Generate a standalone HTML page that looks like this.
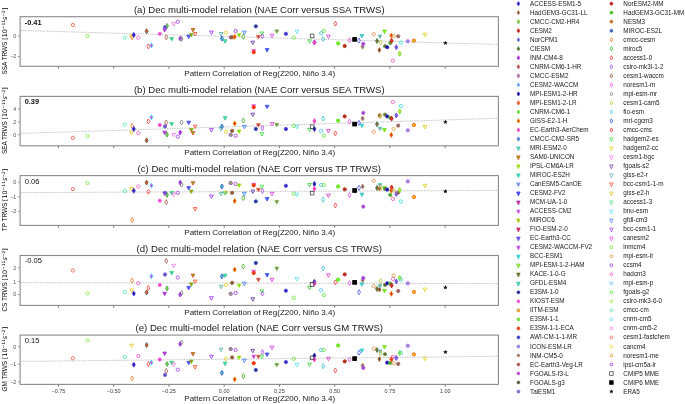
<!DOCTYPE html>
<html><head><meta charset="utf-8"><title>Dec multi-model relation</title>
<style>html,body{margin:0;padding:0;background:#fff;}svg{display:block;font-family:'Liberation Sans', Arial, sans-serif;}</style>
</head><body>
<svg width="685" height="404" viewBox="0 0 685 404">
<rect width="685" height="404" fill="#fff"/>
<rect x="20.1" y="16.7" width="478.3" height="49.6" fill="#fff" stroke="#8a8a8a" stroke-width="1.1"/>
<line x1="20.700000000000003" y1="30.4" x2="497.79999999999995" y2="44.5" stroke="#9a9a9a" stroke-width="0.6" stroke-dasharray="1.4 1"/>
<line x1="17.9" y1="35.9" x2="19.6" y2="35.9" stroke="#444" stroke-width="0.6"/>
<text x="16.2" y="37.8" font-size="5.3" text-anchor="end" fill="#4d4d4d">0</text>
<line x1="17.9" y1="56.5" x2="19.6" y2="56.5" stroke="#444" stroke-width="0.6"/>
<text x="16.2" y="58.4" font-size="5.3" text-anchor="end" fill="#4d4d4d">−2</text>
<line x1="58.4" y1="66.8" x2="58.4" y2="68.6" stroke="#333" stroke-width="0.7"/>
<line x1="113.7" y1="66.8" x2="113.7" y2="68.6" stroke="#333" stroke-width="0.7"/>
<line x1="168.9" y1="66.8" x2="168.9" y2="68.6" stroke="#333" stroke-width="0.7"/>
<line x1="224.2" y1="66.8" x2="224.2" y2="68.6" stroke="#333" stroke-width="0.7"/>
<line x1="279.4" y1="66.8" x2="279.4" y2="68.6" stroke="#333" stroke-width="0.7"/>
<line x1="334.7" y1="66.8" x2="334.7" y2="68.6" stroke="#333" stroke-width="0.7"/>
<line x1="389.9" y1="66.8" x2="389.9" y2="68.6" stroke="#333" stroke-width="0.7"/>
<line x1="445.2" y1="66.8" x2="445.2" y2="68.6" stroke="#333" stroke-width="0.7"/>
<text x="259.3" y="13.05" font-size="9.6" text-anchor="middle" fill="#1a1a1a">(a) Dec multi-model relation (NAE Corr versus SSA TRWS)</text>
<text x="259.7" y="75.7" font-size="8" text-anchor="middle" fill="#1a1a1a">Pattern Correlation of Reg(Z200, Niño 3.4)</text>
<text transform="translate(6.7 41.0) rotate(-90)" font-size="6.4" text-anchor="middle" fill="#000">SSA TRWS <tspan font-family="DejaVu Sans, sans-serif">[10<tspan font-size="4.4" dy="-2.2">−11</tspan><tspan font-style="italic" dy="2.2">s</tspan><tspan font-size="4.4" dy="-2.2">−2</tspan><tspan dy="2.2">]</tspan></tspan></text>
<text x="24.7" y="24.6" font-size="7.4" font-weight="bold" fill="#111">-0.41</text>
<path d="M167.0 23.4L168.5 25.9L167.0 28.4L165.5 25.9Z" fill="#80c060" stroke="#50b040" stroke-width="0.85"/>
<path d="M180.2 36.0L181.7 38.5L180.2 41.0L178.7 38.5Z" fill="#9030d0" stroke="#b040f0" stroke-width="0.85"/>
<path d="M162.8 28.7L166.6 28.7L164.7 32.1Z" fill="#c040e0" stroke="#a040d0" stroke-width="0.85"/>
<circle cx="72.9" cy="25.0" r="1.65" fill="none" stroke="#f06050" stroke-width="0.85"/>
<circle cx="87.5" cy="35.9" r="1.65" fill="none" stroke="#88e848" stroke-width="0.85"/>
<circle cx="124.9" cy="37.6" r="1.65" fill="none" stroke="#5ae8a8" stroke-width="0.85"/>
<path d="M129.7 34.9L133.5 34.9L131.6 38.3Z" fill="none" stroke="#e8c828" stroke-width="0.85"/>
<path d="M132.2 34.8L133.7 37.3L132.2 39.8L130.7 37.3Z" fill="none" stroke="#f08030" stroke-width="0.85"/>
<path d="M133.8 32.4L135.3 34.9L133.8 37.4L132.3 34.9Z" fill="#3010a0" stroke="#4040e0" stroke-width="0.85"/>
<circle cx="138.3" cy="37.6" r="1.65" fill="none" stroke="#f060c8" stroke-width="0.85"/>
<path d="M146.6 28.7L148.1 31.2L146.6 33.7L145.1 31.2Z" fill="#e85030" stroke="#606050" stroke-width="0.85"/>
<path d="M148.4 43.9L149.9 46.4L148.4 48.9L146.9 46.4Z" fill="none" stroke="#f04848" stroke-width="0.85"/>
<path d="M151.4 42.9L152.9 45.4L151.4 47.9L149.9 45.4Z" fill="#e040e0" stroke="#40e0f0" stroke-width="0.85"/>
<circle cx="159.8" cy="33.8" r="1.65" fill="#f040d0" stroke="#f070d8" stroke-width="0.85"/>
<circle cx="165.0" cy="27.1" r="1.65" fill="#6050c0" stroke="#8060e0" stroke-width="0.85"/>
<path d="M166.3 34.8L167.8 37.3L166.3 39.8L164.8 37.3Z" fill="none" stroke="#a06050" stroke-width="0.85"/>
<path d="M169.8 37.6L173.6 37.6L171.7 41.0Z" fill="#40b0d0" stroke="#40e070" stroke-width="0.85"/>
<path d="M171.8 22.7L175.6 22.7L173.7 26.1Z" fill="none" stroke="#f080e0" stroke-width="0.85"/>
<circle cx="177.8" cy="21.8" r="1.65" fill="none" stroke="#a848f0" stroke-width="0.85"/>
<path d="M181.5 36.5L183.0 39.0L181.5 41.5L180.0 39.0Z" fill="none" stroke="#808080" stroke-width="0.85"/>
<path d="M186.8 35.1L190.6 35.1L188.7 38.5Z" fill="#6060f0" stroke="#4848f0" stroke-width="0.85"/>
<path d="M189.4 33.4L193.2 33.4L191.3 36.8Z" fill="#e06020" stroke="#60d020" stroke-width="0.85"/>
<path d="M191.1 28.5L194.9 28.5L193.0 31.9Z" fill="#60c020" stroke="#f05030" stroke-width="0.85"/>
<path d="M193.2 32.5L197.0 32.5L195.1 35.9Z" fill="none" stroke="#f05030" stroke-width="0.85"/>
<path d="M209.5 31.1L213.3 31.1L211.4 34.5Z" fill="none" stroke="#a030f0" stroke-width="0.85"/>
<path d="M219.2 32.5L223.0 32.5L221.1 35.9Z" fill="none" stroke="#50b0a0" stroke-width="0.85"/>
<path d="M221.9 36.0L223.4 38.5L221.9 41.0L220.4 38.5Z" fill="#40c0c0" stroke="#4060d0" stroke-width="0.85"/>
<path d="M223.2 39.8L227.0 39.8L225.1 43.2Z" fill="#40e0c0" stroke="#40c090" stroke-width="0.85"/>
<circle cx="226.0" cy="32.7" r="1.65" fill="none" stroke="#e8d030" stroke-width="0.85"/>
<circle cx="230.7" cy="37.3" r="1.65" fill="#80c040" stroke="#a040d0" stroke-width="0.85"/>
<circle cx="232.1" cy="37.3" r="1.65" fill="#806040" stroke="#a06030" stroke-width="0.85"/>
<path d="M234.7 34.3L236.2 36.8L234.7 39.3L233.2 36.8Z" fill="#e03000" stroke="#f09000" stroke-width="0.85"/>
<circle cx="235.6" cy="31.0" r="1.65" fill="none" stroke="#a040d0" stroke-width="0.85"/>
<path d="M237.2 33.7L241.0 33.7L239.1 37.1Z" fill="#40e020" stroke="#c0e020" stroke-width="0.85"/>
<path d="M243.3 34.3L244.8 36.8L243.3 39.3L241.8 36.8Z" fill="none" stroke="#50b030" stroke-width="0.85"/>
<path d="M242.4 31.1L246.2 31.1L244.3 34.5Z" fill="none" stroke="#4080f0" stroke-width="0.85"/>
<path d="M250.9 41.2L254.7 41.2L252.8 44.6Z" fill="none" stroke="#6030a0" stroke-width="0.85"/>
<path d="M251.8 49.5L255.6 49.5L253.7 52.9Z" fill="#a040c0" stroke="#f060e0" stroke-width="0.85"/>
<circle cx="253.7" cy="52.2" r="1.65" fill="#f03010" stroke="#f04010" stroke-width="0.85"/>
<circle cx="255.8" cy="26.3" r="1.65" fill="#303090" stroke="#4050c0" stroke-width="0.85"/>
<path d="M256.5 35.5L260.3 35.5L258.4 38.9Z" fill="#a040a0" stroke="#f06020" stroke-width="0.85"/>
<path d="M260.0 32.0L263.8 32.0L261.9 35.4Z" fill="none" stroke="#40e040" stroke-width="0.85"/>
<path d="M262.4 33.7L263.9 36.2L262.4 38.7L260.9 36.2Z" fill="none" stroke="#a050e0" stroke-width="0.85"/>
<path d="M265.2 48.6L269.0 48.6L267.1 52.0Z" fill="#5060f0" stroke="#4050f0" stroke-width="0.85"/>
<path d="M270.1 34.2L273.9 34.2L272.0 37.6Z" fill="none" stroke="#e040e0" stroke-width="0.85"/>
<path d="M274.9 29.9L278.7 29.9L276.8 33.3Z" fill="#c040c0" stroke="#60d020" stroke-width="0.85"/>
<circle cx="285.9" cy="33.8" r="1.65" fill="#3030c0" stroke="#5040e0" stroke-width="0.85"/>
<circle cx="293.8" cy="37.6" r="1.65" fill="none" stroke="#70e040" stroke-width="0.85"/>
<path d="M295.0 30.2L298.8 30.2L296.9 33.6Z" fill="none" stroke="#60e0f0" stroke-width="0.85"/>
<path d="M307.6 39.8L311.4 39.8L309.5 43.2Z" fill="none" stroke="#40d040" stroke-width="0.85"/>
<path d="M314.4 39.9L315.9 42.4L314.4 44.9L312.9 42.4Z" fill="#201090" stroke="#3030c0" stroke-width="0.85"/>
<path d="M314.4 40.0L315.9 42.5L314.4 45.0L312.9 42.5Z" fill="#f040c0" stroke="#f050d0" stroke-width="0.85"/>
<circle cx="321.1" cy="33.3" r="1.65" fill="none" stroke="#50c0f0" stroke-width="0.85"/>
<path d="M323.2 36.5L324.7 39.0L323.2 41.5L321.7 39.0Z" fill="none" stroke="#40c0d0" stroke-width="0.85"/>
<circle cx="323.7" cy="31.0" r="1.65" fill="none" stroke="#60e040" stroke-width="0.85"/>
<path d="M326.5 35.1L330.3 35.1L328.4 38.5Z" fill="none" stroke="#e040d0" stroke-width="0.85"/>
<path d="M335.4 21.1L336.9 23.6L335.4 26.1L333.9 23.6Z" fill="none" stroke="#f04040" stroke-width="0.85"/>
<circle cx="338.1" cy="43.4" r="1.65" fill="#70f020" stroke="#60e020" stroke-width="0.85"/>
<circle cx="344.7" cy="46.0" r="1.65" fill="#b03020" stroke="#c03020" stroke-width="0.85"/>
<path d="M349.5 37.8L351.0 40.3L349.5 42.8L348.0 40.3Z" fill="none" stroke="#e060e0" stroke-width="0.85"/>
<path d="M359.0 38.1L360.5 40.6L359.0 43.1L357.5 40.6Z" fill="none" stroke="#5060f0" stroke-width="0.85"/>
<path d="M360.0 34.6L363.8 34.6L361.9 38.0Z" fill="#40e0e0" stroke="#40c0c0" stroke-width="0.85"/>
<path d="M362.6 44.2L364.1 46.7L362.6 49.2L361.1 46.7Z" fill="#a040c0" stroke="#a0a030" stroke-width="0.85"/>
<circle cx="363.3" cy="43.8" r="1.65" fill="#a040c0" stroke="#b060f0" stroke-width="0.85"/>
<circle cx="373.7" cy="34.2" r="1.65" fill="none" stroke="#f09050" stroke-width="0.85"/>
<path d="M377.0 38.5L378.5 41.0L377.0 43.5L375.5 41.0Z" fill="#806040" stroke="#508040" stroke-width="0.85"/>
<path d="M379.4 47.5L380.9 50.0L379.4 52.5L377.9 50.0Z" fill="#205050" stroke="#f07020" stroke-width="0.85"/>
<path d="M378.1 35.0L381.9 35.0L380.0 38.4Z" fill="#e060c0" stroke="#40e0b0" stroke-width="0.85"/>
<path d="M380.6 39.8L382.1 42.3L380.6 44.8L379.1 42.3Z" fill="none" stroke="#c0c040" stroke-width="0.85"/>
<path d="M382.6 30.1L386.4 30.1L384.5 33.5Z" fill="#a0e020" stroke="#60e020" stroke-width="0.85"/>
<circle cx="385.0" cy="46.2" r="1.65" fill="#805040" stroke="#60b040" stroke-width="0.85"/>
<circle cx="387.2" cy="47.2" r="1.65" fill="#201090" stroke="#3030c0" stroke-width="0.85"/>
<circle cx="390.3" cy="43.0" r="1.65" fill="#50a030" stroke="#60b040" stroke-width="0.85"/>
<path d="M391.6 38.3L393.1 40.8L391.6 43.3L390.1 40.8Z" fill="#e03030" stroke="#c02020" stroke-width="0.85"/>
<path d="M391.3 33.1L392.8 35.6L391.3 38.1L389.8 35.6Z" fill="#e03000" stroke="#f08020" stroke-width="0.85"/>
<circle cx="392.9" cy="60.6" r="1.65" fill="none" stroke="#f060c0" stroke-width="0.85"/>
<circle cx="393.6" cy="36.1" r="1.65" fill="none" stroke="#d0a040" stroke-width="0.85"/>
<path d="M396.3 44.7L397.8 47.2L396.3 49.7L394.8 47.2Z" fill="#8060d0" stroke="#7050e0" stroke-width="0.85"/>
<circle cx="398.2" cy="36.3" r="1.65" fill="#707070" stroke="#c06060" stroke-width="0.85"/>
<path d="M399.7 51.2L401.2 53.7L399.7 56.2L398.2 53.7Z" fill="#e0e040" stroke="#60e020" stroke-width="0.85"/>
<circle cx="400.9" cy="42.6" r="1.65" fill="none" stroke="#40e0d0" stroke-width="0.85"/>
<circle cx="407.8" cy="41.3" r="1.65" fill="#50b0e0" stroke="#f050f0" stroke-width="0.85"/>
<circle cx="413.9" cy="40.6" r="1.65" fill="#f0c000" stroke="#f06020" stroke-width="0.85"/>
<path d="M423.1 33.2L426.9 33.2L425.0 36.6Z" fill="none" stroke="#e0d020" stroke-width="0.85"/>
<rect x="310.25" y="34.05" width="3.70" height="3.70" fill="none" stroke="#333" stroke-width="0.7"/>
<rect x="352.75" y="37.55" width="3.70" height="3.70" fill="#000" stroke="#000" stroke-width="0.9"/>
<polygon points="445.40,40.70 445.99,42.29 447.68,42.36 446.35,43.41 446.81,45.04 445.40,44.10 443.99,45.04 444.45,43.41 443.12,42.36 444.81,42.29" fill="#000"/>
<rect x="20.1" y="96.4" width="478.3" height="49.4" fill="#fff" stroke="#8a8a8a" stroke-width="1.1"/>
<line x1="20.700000000000003" y1="133.4" x2="497.79999999999995" y2="118.3" stroke="#9a9a9a" stroke-width="0.6" stroke-dasharray="1.4 1"/>
<line x1="17.9" y1="108.9" x2="19.6" y2="108.9" stroke="#444" stroke-width="0.6"/>
<text x="16.2" y="110.8" font-size="5.3" text-anchor="end" fill="#4d4d4d">4</text>
<line x1="17.9" y1="122.0" x2="19.6" y2="122.0" stroke="#444" stroke-width="0.6"/>
<text x="16.2" y="123.9" font-size="5.3" text-anchor="end" fill="#4d4d4d">2</text>
<line x1="17.9" y1="134.7" x2="19.6" y2="134.7" stroke="#444" stroke-width="0.6"/>
<text x="16.2" y="136.6" font-size="5.3" text-anchor="end" fill="#4d4d4d">0</text>
<line x1="58.4" y1="146.3" x2="58.4" y2="148.10000000000002" stroke="#333" stroke-width="0.7"/>
<line x1="113.7" y1="146.3" x2="113.7" y2="148.10000000000002" stroke="#333" stroke-width="0.7"/>
<line x1="168.9" y1="146.3" x2="168.9" y2="148.10000000000002" stroke="#333" stroke-width="0.7"/>
<line x1="224.2" y1="146.3" x2="224.2" y2="148.10000000000002" stroke="#333" stroke-width="0.7"/>
<line x1="279.4" y1="146.3" x2="279.4" y2="148.10000000000002" stroke="#333" stroke-width="0.7"/>
<line x1="334.7" y1="146.3" x2="334.7" y2="148.10000000000002" stroke="#333" stroke-width="0.7"/>
<line x1="389.9" y1="146.3" x2="389.9" y2="148.10000000000002" stroke="#333" stroke-width="0.7"/>
<line x1="445.2" y1="146.3" x2="445.2" y2="148.10000000000002" stroke="#333" stroke-width="0.7"/>
<text x="259.3" y="92.75" font-size="9.6" text-anchor="middle" fill="#1a1a1a">(b) Dec multi-model relation (NAE Corr versus SEA TRWS)</text>
<text x="259.7" y="155.2" font-size="8" text-anchor="middle" fill="#1a1a1a">Pattern Correlation of Reg(Z200, Niño 3.4)</text>
<text transform="translate(6.7 120.6) rotate(-90)" font-size="6.4" text-anchor="middle" fill="#000">SEA TRWS <tspan font-family="DejaVu Sans, sans-serif">[10<tspan font-size="4.4" dy="-2.2">−11</tspan><tspan font-style="italic" dy="2.2">s</tspan><tspan font-size="4.4" dy="-2.2">−2</tspan><tspan dy="2.2">]</tspan></tspan></text>
<text x="24.7" y="104.3" font-size="7.4" font-weight="bold" fill="#111">0.39</text>
<path d="M167.0 132.1L168.5 134.6L167.0 137.1L165.5 134.6Z" fill="#80c060" stroke="#50b040" stroke-width="0.85"/>
<path d="M180.2 130.0L181.7 132.5L180.2 135.0L178.7 132.5Z" fill="#9030d0" stroke="#b040f0" stroke-width="0.85"/>
<path d="M162.8 131.2L166.6 131.2L164.7 134.6Z" fill="#c040e0" stroke="#a040d0" stroke-width="0.85"/>
<circle cx="72.9" cy="137.8" r="1.65" fill="none" stroke="#f06050" stroke-width="0.85"/>
<circle cx="87.5" cy="136.0" r="1.65" fill="none" stroke="#88e848" stroke-width="0.85"/>
<circle cx="124.9" cy="124.6" r="1.65" fill="none" stroke="#5ae8a8" stroke-width="0.85"/>
<path d="M129.7 131.4L133.5 131.4L131.6 134.8Z" fill="none" stroke="#e8c828" stroke-width="0.85"/>
<path d="M132.2 123.5L133.7 126.0L132.2 128.5L130.7 126.0Z" fill="none" stroke="#f08030" stroke-width="0.85"/>
<path d="M133.8 126.5L135.3 129.0L133.8 131.5L132.3 129.0Z" fill="#3010a0" stroke="#4040e0" stroke-width="0.85"/>
<circle cx="138.3" cy="133.2" r="1.65" fill="none" stroke="#f060c8" stroke-width="0.85"/>
<path d="M146.6 137.9L148.1 140.4L146.6 142.9L145.1 140.4Z" fill="#e85030" stroke="#606050" stroke-width="0.85"/>
<path d="M148.4 119.0L149.9 121.5L148.4 124.0L146.9 121.5Z" fill="none" stroke="#f04848" stroke-width="0.85"/>
<path d="M151.4 114.8L152.9 117.3L151.4 119.8L149.9 117.3Z" fill="#e040e0" stroke="#40e0f0" stroke-width="0.85"/>
<circle cx="159.8" cy="125.0" r="1.65" fill="#f040d0" stroke="#f070d8" stroke-width="0.85"/>
<circle cx="165.0" cy="126.4" r="1.65" fill="#6050c0" stroke="#8060e0" stroke-width="0.85"/>
<path d="M166.3 120.0L167.8 122.5L166.3 125.0L164.8 122.5Z" fill="none" stroke="#a06050" stroke-width="0.85"/>
<path d="M169.8 122.5L173.6 122.5L171.7 125.9Z" fill="#40b0d0" stroke="#40e070" stroke-width="0.85"/>
<path d="M171.8 133.3L175.6 133.3L173.7 136.7Z" fill="none" stroke="#f080e0" stroke-width="0.85"/>
<circle cx="177.8" cy="136.6" r="1.65" fill="none" stroke="#a848f0" stroke-width="0.85"/>
<path d="M181.5 120.0L183.0 122.5L181.5 125.0L180.0 122.5Z" fill="none" stroke="#808080" stroke-width="0.85"/>
<path d="M186.8 121.2L190.6 121.2L188.7 124.6Z" fill="#6060f0" stroke="#4848f0" stroke-width="0.85"/>
<path d="M189.4 128.6L193.2 128.6L191.3 132.0Z" fill="#e06020" stroke="#60d020" stroke-width="0.85"/>
<path d="M191.1 131.6L194.9 131.6L193.0 135.0Z" fill="#60c020" stroke="#f05030" stroke-width="0.85"/>
<path d="M193.2 125.1L197.0 125.1L195.1 128.5Z" fill="none" stroke="#f05030" stroke-width="0.85"/>
<path d="M209.5 128.6L213.3 128.6L211.4 132.0Z" fill="none" stroke="#a030f0" stroke-width="0.85"/>
<path d="M219.2 127.4L223.0 127.4L221.1 130.8Z" fill="none" stroke="#50b0a0" stroke-width="0.85"/>
<path d="M221.9 123.9L223.4 126.4L221.9 128.9L220.4 126.4Z" fill="#40c0c0" stroke="#4060d0" stroke-width="0.85"/>
<path d="M223.2 116.7L227.0 116.7L225.1 120.1Z" fill="#40e0c0" stroke="#40c090" stroke-width="0.85"/>
<circle cx="226.0" cy="131.7" r="1.65" fill="none" stroke="#e8d030" stroke-width="0.85"/>
<circle cx="230.7" cy="134.8" r="1.65" fill="#80c040" stroke="#a040d0" stroke-width="0.85"/>
<circle cx="232.1" cy="130.8" r="1.65" fill="#806040" stroke="#a06030" stroke-width="0.85"/>
<path d="M234.7 120.9L236.2 123.4L234.7 125.9L233.2 123.4Z" fill="#e03000" stroke="#f09000" stroke-width="0.85"/>
<circle cx="235.6" cy="135.7" r="1.65" fill="none" stroke="#a040d0" stroke-width="0.85"/>
<path d="M237.2 130.0L241.0 130.0L239.1 133.4Z" fill="#40e020" stroke="#c0e020" stroke-width="0.85"/>
<path d="M243.3 117.9L244.8 120.4L243.3 122.9L241.8 120.4Z" fill="none" stroke="#50b030" stroke-width="0.85"/>
<path d="M242.4 125.4L246.2 125.4L244.3 128.8Z" fill="none" stroke="#4080f0" stroke-width="0.85"/>
<path d="M250.9 113.2L254.7 113.2L252.8 116.6Z" fill="none" stroke="#6030a0" stroke-width="0.85"/>
<path d="M251.8 104.7L255.6 104.7L253.7 108.1Z" fill="#a040c0" stroke="#f060e0" stroke-width="0.85"/>
<circle cx="253.7" cy="107.3" r="1.65" fill="#f03010" stroke="#f04010" stroke-width="0.85"/>
<circle cx="255.8" cy="129.0" r="1.65" fill="#303090" stroke="#4050c0" stroke-width="0.85"/>
<path d="M256.5 123.7L260.3 123.7L258.4 127.1Z" fill="#a040a0" stroke="#f06020" stroke-width="0.85"/>
<path d="M260.0 132.6L263.8 132.6L261.9 136.0Z" fill="none" stroke="#40e040" stroke-width="0.85"/>
<path d="M262.4 125.6L263.9 128.1L262.4 130.6L260.9 128.1Z" fill="none" stroke="#a050e0" stroke-width="0.85"/>
<path d="M265.2 105.3L269.0 105.3L267.1 108.7Z" fill="#5060f0" stroke="#4050f0" stroke-width="0.85"/>
<path d="M270.1 122.5L273.9 122.5L272.0 125.9Z" fill="none" stroke="#e040e0" stroke-width="0.85"/>
<path d="M274.9 123.3L278.7 123.3L276.8 126.7Z" fill="#c040c0" stroke="#60d020" stroke-width="0.85"/>
<circle cx="285.9" cy="129.0" r="1.65" fill="#3030c0" stroke="#5040e0" stroke-width="0.85"/>
<circle cx="293.8" cy="125.9" r="1.65" fill="none" stroke="#70e040" stroke-width="0.85"/>
<path d="M295.0 125.4L298.8 125.4L296.9 128.8Z" fill="none" stroke="#60e0f0" stroke-width="0.85"/>
<path d="M307.6 128.3L311.4 128.3L309.5 131.7Z" fill="none" stroke="#40d040" stroke-width="0.85"/>
<path d="M314.4 126.5L315.9 129.0L314.4 131.5L312.9 129.0Z" fill="#201090" stroke="#3030c0" stroke-width="0.85"/>
<path d="M314.4 118.6L315.9 121.1L314.4 123.6L312.9 121.1Z" fill="#f040c0" stroke="#f050d0" stroke-width="0.85"/>
<circle cx="321.1" cy="130.8" r="1.65" fill="none" stroke="#50c0f0" stroke-width="0.85"/>
<path d="M323.2 116.0L324.7 118.5L323.2 121.0L321.7 118.5Z" fill="none" stroke="#40c0d0" stroke-width="0.85"/>
<circle cx="323.7" cy="135.7" r="1.65" fill="none" stroke="#60e040" stroke-width="0.85"/>
<path d="M326.5 129.5L330.3 129.5L328.4 132.9Z" fill="none" stroke="#e040d0" stroke-width="0.85"/>
<path d="M335.4 130.9L336.9 133.4L335.4 135.9L333.9 133.4Z" fill="none" stroke="#f04040" stroke-width="0.85"/>
<circle cx="338.1" cy="120.6" r="1.65" fill="#70f020" stroke="#60e020" stroke-width="0.85"/>
<circle cx="344.7" cy="116.4" r="1.65" fill="#b03020" stroke="#c03020" stroke-width="0.85"/>
<path d="M349.5 119.2L351.0 121.7L349.5 124.2L348.0 121.7Z" fill="none" stroke="#e060e0" stroke-width="0.85"/>
<path d="M359.0 120.4L360.5 122.9L359.0 125.4L357.5 122.9Z" fill="none" stroke="#5060f0" stroke-width="0.85"/>
<path d="M360.0 124.2L363.8 124.2L361.9 127.6Z" fill="#40e0e0" stroke="#40c0c0" stroke-width="0.85"/>
<path d="M362.6 116.0L364.1 118.5L362.6 121.0L361.1 118.5Z" fill="#a040c0" stroke="#a0a030" stroke-width="0.85"/>
<circle cx="363.3" cy="112.9" r="1.65" fill="#a040c0" stroke="#b060f0" stroke-width="0.85"/>
<circle cx="373.7" cy="131.7" r="1.65" fill="none" stroke="#f09050" stroke-width="0.85"/>
<path d="M377.0 121.7L378.5 124.2L377.0 126.7L375.5 124.2Z" fill="#806040" stroke="#508040" stroke-width="0.85"/>
<path d="M379.4 113.1L380.9 115.6L379.4 118.1L377.9 115.6Z" fill="#205050" stroke="#f07020" stroke-width="0.85"/>
<path d="M378.1 127.2L381.9 127.2L380.0 130.6Z" fill="#e060c0" stroke="#40e0b0" stroke-width="0.85"/>
<path d="M380.6 113.4L382.1 115.9L380.6 118.4L379.1 115.9Z" fill="none" stroke="#c0c040" stroke-width="0.85"/>
<path d="M382.6 128.6L386.4 128.6L384.5 132.0Z" fill="#a0e020" stroke="#60e020" stroke-width="0.85"/>
<circle cx="385.0" cy="114.6" r="1.65" fill="#805040" stroke="#60b040" stroke-width="0.85"/>
<circle cx="387.2" cy="116.4" r="1.65" fill="#201090" stroke="#3030c0" stroke-width="0.85"/>
<circle cx="390.3" cy="117.8" r="1.65" fill="#50a030" stroke="#60b040" stroke-width="0.85"/>
<path d="M391.6 116.1L393.1 118.6L391.6 121.1L390.1 118.6Z" fill="#e03030" stroke="#c02020" stroke-width="0.85"/>
<path d="M391.3 132.4L392.8 134.9L391.3 137.4L389.8 134.9Z" fill="#e03000" stroke="#f08020" stroke-width="0.85"/>
<circle cx="392.9" cy="101.9" r="1.65" fill="none" stroke="#f060c0" stroke-width="0.85"/>
<circle cx="393.6" cy="128.9" r="1.65" fill="none" stroke="#d0a040" stroke-width="0.85"/>
<path d="M396.3 112.9L397.8 115.4L396.3 117.9L394.8 115.4Z" fill="#8060d0" stroke="#7050e0" stroke-width="0.85"/>
<circle cx="398.2" cy="125.6" r="1.65" fill="#707070" stroke="#c06060" stroke-width="0.85"/>
<path d="M399.7 109.1L401.2 111.6L399.7 114.1L398.2 111.6Z" fill="#e0e040" stroke="#60e020" stroke-width="0.85"/>
<circle cx="400.9" cy="106.0" r="1.65" fill="none" stroke="#40e0d0" stroke-width="0.85"/>
<circle cx="407.8" cy="130.3" r="1.65" fill="#50b0e0" stroke="#f050f0" stroke-width="0.85"/>
<circle cx="413.9" cy="125.0" r="1.65" fill="#f0c000" stroke="#f06020" stroke-width="0.85"/>
<path d="M423.1 125.4L426.9 125.4L425.0 128.8Z" fill="none" stroke="#e0d020" stroke-width="0.85"/>
<rect x="310.25" y="124.85" width="3.70" height="3.70" fill="none" stroke="#333" stroke-width="0.7"/>
<rect x="352.75" y="122.25" width="3.70" height="3.70" fill="#000" stroke="#000" stroke-width="0.9"/>
<polygon points="445.40,119.60 445.99,121.19 447.68,121.26 446.35,122.31 446.81,123.94 445.40,123.00 443.99,123.94 444.45,122.31 443.12,121.26 444.81,121.19" fill="#000"/>
<rect x="20.1" y="175.6" width="478.3" height="49.8" fill="#fff" stroke="#8a8a8a" stroke-width="1.1"/>
<line x1="20.700000000000003" y1="192.6" x2="497.79999999999995" y2="190.4" stroke="#9a9a9a" stroke-width="0.6" stroke-dasharray="1.4 1"/>
<line x1="17.9" y1="182.4" x2="19.6" y2="182.4" stroke="#444" stroke-width="0.6"/>
<text x="16.2" y="184.3" font-size="5.3" text-anchor="end" fill="#4d4d4d">0</text>
<line x1="17.9" y1="196.8" x2="19.6" y2="196.8" stroke="#444" stroke-width="0.6"/>
<text x="16.2" y="198.7" font-size="5.3" text-anchor="end" fill="#4d4d4d">−1</text>
<line x1="17.9" y1="211.5" x2="19.6" y2="211.5" stroke="#444" stroke-width="0.6"/>
<text x="16.2" y="213.4" font-size="5.3" text-anchor="end" fill="#4d4d4d">−2</text>
<line x1="58.4" y1="225.9" x2="58.4" y2="227.70000000000002" stroke="#333" stroke-width="0.7"/>
<line x1="113.7" y1="225.9" x2="113.7" y2="227.70000000000002" stroke="#333" stroke-width="0.7"/>
<line x1="168.9" y1="225.9" x2="168.9" y2="227.70000000000002" stroke="#333" stroke-width="0.7"/>
<line x1="224.2" y1="225.9" x2="224.2" y2="227.70000000000002" stroke="#333" stroke-width="0.7"/>
<line x1="279.4" y1="225.9" x2="279.4" y2="227.70000000000002" stroke="#333" stroke-width="0.7"/>
<line x1="334.7" y1="225.9" x2="334.7" y2="227.70000000000002" stroke="#333" stroke-width="0.7"/>
<line x1="389.9" y1="225.9" x2="389.9" y2="227.70000000000002" stroke="#333" stroke-width="0.7"/>
<line x1="445.2" y1="225.9" x2="445.2" y2="227.70000000000002" stroke="#333" stroke-width="0.7"/>
<text x="259.3" y="171.95" font-size="9.6" text-anchor="middle" fill="#1a1a1a">(c) Dec multi-model relation (NAE Corr versus TP TRWS)</text>
<text x="259.7" y="234.8" font-size="8" text-anchor="middle" fill="#1a1a1a">Pattern Correlation of Reg(Z200, Niño 3.4)</text>
<text transform="translate(6.7 200.0) rotate(-90)" font-size="6.4" text-anchor="middle" fill="#000">TP TRWS <tspan font-family="DejaVu Sans, sans-serif">[10<tspan font-size="4.4" dy="-2.2">−11</tspan><tspan font-style="italic" dy="2.2">s</tspan><tspan font-size="4.4" dy="-2.2">−2</tspan><tspan dy="2.2">]</tspan></tspan></text>
<text x="24.7" y="183.5" font-size="7.6"  fill="#111">0.06</text>
<path d="M167.0 192.4L168.5 194.9L167.0 197.4L165.5 194.9Z" fill="#80c060" stroke="#50b040" stroke-width="0.85"/>
<path d="M180.2 180.1L181.7 182.6L180.2 185.1L178.7 182.6Z" fill="#9030d0" stroke="#b040f0" stroke-width="0.85"/>
<path d="M162.8 192.2L166.6 192.2L164.7 195.6Z" fill="#c040e0" stroke="#a040d0" stroke-width="0.85"/>
<circle cx="72.9" cy="189.1" r="1.65" fill="none" stroke="#f06050" stroke-width="0.85"/>
<circle cx="87.5" cy="183.0" r="1.65" fill="none" stroke="#88e848" stroke-width="0.85"/>
<circle cx="124.9" cy="190.9" r="1.65" fill="none" stroke="#5ae8a8" stroke-width="0.85"/>
<path d="M129.7 187.5L133.5 187.5L131.6 190.9Z" fill="none" stroke="#e8c828" stroke-width="0.85"/>
<path d="M132.2 217.4L133.7 219.9L132.2 222.4L130.7 219.9Z" fill="none" stroke="#f08030" stroke-width="0.85"/>
<path d="M133.8 188.2L135.3 190.7L133.8 193.2L132.3 190.7Z" fill="#3010a0" stroke="#4040e0" stroke-width="0.85"/>
<circle cx="138.3" cy="186.5" r="1.65" fill="none" stroke="#f060c8" stroke-width="0.85"/>
<path d="M146.6 180.1L148.1 182.6L146.6 185.1L145.1 182.6Z" fill="#e85030" stroke="#606050" stroke-width="0.85"/>
<path d="M148.4 189.2L149.9 191.7L148.4 194.2L146.9 191.7Z" fill="none" stroke="#f04848" stroke-width="0.85"/>
<path d="M151.4 183.1L152.9 185.6L151.4 188.1L149.9 185.6Z" fill="#e040e0" stroke="#40e0f0" stroke-width="0.85"/>
<circle cx="159.8" cy="200.7" r="1.65" fill="#f040d0" stroke="#f070d8" stroke-width="0.85"/>
<circle cx="165.0" cy="192.8" r="1.65" fill="#6050c0" stroke="#8060e0" stroke-width="0.85"/>
<path d="M166.3 199.7L167.8 202.2L166.3 204.7L164.8 202.2Z" fill="none" stroke="#a06050" stroke-width="0.85"/>
<path d="M169.8 191.5L173.6 191.5L171.7 194.9Z" fill="#40b0d0" stroke="#40e070" stroke-width="0.85"/>
<path d="M171.8 193.1L175.6 193.1L173.7 196.5Z" fill="none" stroke="#f080e0" stroke-width="0.85"/>
<circle cx="177.8" cy="192.8" r="1.65" fill="none" stroke="#a848f0" stroke-width="0.85"/>
<path d="M181.5 182.2L183.0 184.7L181.5 187.2L180.0 184.7Z" fill="none" stroke="#808080" stroke-width="0.85"/>
<path d="M186.8 186.6L190.6 186.6L188.7 190.0Z" fill="#6060f0" stroke="#4848f0" stroke-width="0.85"/>
<path d="M189.4 190.1L193.2 190.1L191.3 193.5Z" fill="#e06020" stroke="#60d020" stroke-width="0.85"/>
<path d="M191.1 181.7L194.9 181.7L193.0 185.1Z" fill="#60c020" stroke="#f05030" stroke-width="0.85"/>
<path d="M193.2 207.6L197.0 207.6L195.1 211.0Z" fill="none" stroke="#f05030" stroke-width="0.85"/>
<path d="M209.5 195.0L213.3 195.0L211.4 198.4Z" fill="none" stroke="#a030f0" stroke-width="0.85"/>
<path d="M219.2 192.4L223.0 192.4L221.1 195.8Z" fill="none" stroke="#50b0a0" stroke-width="0.85"/>
<path d="M221.9 184.0L223.4 186.5L221.9 189.0L220.4 186.5Z" fill="#40c0c0" stroke="#4060d0" stroke-width="0.85"/>
<path d="M223.2 191.7L227.0 191.7L225.1 195.1Z" fill="#40e0c0" stroke="#40c090" stroke-width="0.85"/>
<circle cx="226.0" cy="192.3" r="1.65" fill="none" stroke="#e8d030" stroke-width="0.85"/>
<circle cx="230.7" cy="183.0" r="1.65" fill="#80c040" stroke="#a040d0" stroke-width="0.85"/>
<circle cx="232.1" cy="192.8" r="1.65" fill="#806040" stroke="#a06030" stroke-width="0.85"/>
<path d="M234.7 198.5L236.2 201.0L234.7 203.5L233.2 201.0Z" fill="#e03000" stroke="#f09000" stroke-width="0.85"/>
<circle cx="235.6" cy="184.0" r="1.65" fill="none" stroke="#a040d0" stroke-width="0.85"/>
<path d="M237.2 184.0L241.0 184.0L239.1 187.4Z" fill="#40e020" stroke="#c0e020" stroke-width="0.85"/>
<path d="M243.3 195.5L244.8 198.0L243.3 200.5L241.8 198.0Z" fill="none" stroke="#50b030" stroke-width="0.85"/>
<path d="M242.4 192.4L246.2 192.4L244.3 195.8Z" fill="none" stroke="#4080f0" stroke-width="0.85"/>
<path d="M250.9 190.1L254.7 190.1L252.8 193.5Z" fill="none" stroke="#6030a0" stroke-width="0.85"/>
<path d="M251.8 183.2L255.6 183.2L253.7 186.6Z" fill="#a040c0" stroke="#f060e0" stroke-width="0.85"/>
<circle cx="253.7" cy="185.3" r="1.65" fill="#f03010" stroke="#f04010" stroke-width="0.85"/>
<circle cx="255.8" cy="201.4" r="1.65" fill="#303090" stroke="#4050c0" stroke-width="0.85"/>
<path d="M256.5 188.3L260.3 188.3L258.4 191.7Z" fill="#a040a0" stroke="#f06020" stroke-width="0.85"/>
<path d="M260.0 185.2L263.8 185.2L261.9 188.6Z" fill="none" stroke="#40e040" stroke-width="0.85"/>
<path d="M262.4 188.5L263.9 191.0L262.4 193.5L260.9 191.0Z" fill="none" stroke="#a050e0" stroke-width="0.85"/>
<path d="M265.2 197.6L269.0 197.6L267.1 201.0Z" fill="#5060f0" stroke="#4050f0" stroke-width="0.85"/>
<path d="M270.1 192.4L273.9 192.4L272.0 195.8Z" fill="none" stroke="#e040e0" stroke-width="0.85"/>
<path d="M274.9 200.6L278.7 200.6L276.8 204.0Z" fill="#c040c0" stroke="#60d020" stroke-width="0.85"/>
<circle cx="285.9" cy="185.8" r="1.65" fill="#3030c0" stroke="#5040e0" stroke-width="0.85"/>
<circle cx="293.8" cy="193.7" r="1.65" fill="none" stroke="#70e040" stroke-width="0.85"/>
<path d="M295.0 193.2L298.8 193.2L296.9 196.6Z" fill="none" stroke="#60e0f0" stroke-width="0.85"/>
<path d="M307.6 183.4L311.4 183.4L309.5 186.8Z" fill="none" stroke="#40d040" stroke-width="0.85"/>
<path d="M314.4 181.4L315.9 183.9L314.4 186.4L312.9 183.9Z" fill="#201090" stroke="#3030c0" stroke-width="0.85"/>
<path d="M314.4 186.3L315.9 188.8L314.4 191.3L312.9 188.8Z" fill="#f040c0" stroke="#f050d0" stroke-width="0.85"/>
<circle cx="321.1" cy="184.9" r="1.65" fill="none" stroke="#50c0f0" stroke-width="0.85"/>
<path d="M323.2 197.1L324.7 199.6L323.2 202.1L321.7 199.6Z" fill="none" stroke="#40c0d0" stroke-width="0.85"/>
<circle cx="323.7" cy="184.9" r="1.65" fill="none" stroke="#60e040" stroke-width="0.85"/>
<path d="M326.5 194.1L330.3 194.1L328.4 197.5Z" fill="none" stroke="#e040d0" stroke-width="0.85"/>
<path d="M335.4 202.9L336.9 205.4L335.4 207.9L333.9 205.4Z" fill="none" stroke="#f04040" stroke-width="0.85"/>
<circle cx="338.1" cy="186.5" r="1.65" fill="#70f020" stroke="#60e020" stroke-width="0.85"/>
<circle cx="344.7" cy="189.3" r="1.65" fill="#b03020" stroke="#c03020" stroke-width="0.85"/>
<path d="M349.5 192.7L351.0 195.2L349.5 197.7L348.0 195.2Z" fill="none" stroke="#e060e0" stroke-width="0.85"/>
<path d="M359.0 185.4L360.5 187.9L359.0 190.4L357.5 187.9Z" fill="none" stroke="#5060f0" stroke-width="0.85"/>
<path d="M360.0 193.1L363.8 193.1L361.9 196.5Z" fill="#40e0e0" stroke="#40c0c0" stroke-width="0.85"/>
<path d="M362.6 184.0L364.1 186.5L362.6 189.0L361.1 186.5Z" fill="#a040c0" stroke="#a0a030" stroke-width="0.85"/>
<circle cx="363.3" cy="206.6" r="1.65" fill="#a040c0" stroke="#b060f0" stroke-width="0.85"/>
<circle cx="373.7" cy="180.9" r="1.65" fill="none" stroke="#f09050" stroke-width="0.85"/>
<path d="M377.0 185.4L378.5 187.9L377.0 190.4L375.5 187.9Z" fill="#806040" stroke="#508040" stroke-width="0.85"/>
<path d="M379.4 186.0L380.9 188.5L379.4 191.0L377.9 188.5Z" fill="#205050" stroke="#f07020" stroke-width="0.85"/>
<path d="M378.1 183.6L381.9 183.6L380.0 187.0Z" fill="#e060c0" stroke="#40e0b0" stroke-width="0.85"/>
<path d="M380.6 185.4L382.1 187.9L380.6 190.4L379.1 187.9Z" fill="none" stroke="#c0c040" stroke-width="0.85"/>
<path d="M382.6 186.6L386.4 186.6L384.5 190.0Z" fill="#a0e020" stroke="#60e020" stroke-width="0.85"/>
<circle cx="385.0" cy="188.8" r="1.65" fill="#805040" stroke="#60b040" stroke-width="0.85"/>
<circle cx="387.2" cy="189.6" r="1.65" fill="#201090" stroke="#3030c0" stroke-width="0.85"/>
<circle cx="390.3" cy="194.9" r="1.65" fill="#50a030" stroke="#60b040" stroke-width="0.85"/>
<path d="M391.6 185.0L393.1 187.5L391.6 190.0L390.1 187.5Z" fill="#e03030" stroke="#c02020" stroke-width="0.85"/>
<path d="M391.3 188.0L392.8 190.5L391.3 193.0L389.8 190.5Z" fill="#e03000" stroke="#f08020" stroke-width="0.85"/>
<circle cx="392.9" cy="198.9" r="1.65" fill="none" stroke="#f060c0" stroke-width="0.85"/>
<circle cx="393.6" cy="190.5" r="1.65" fill="none" stroke="#d0a040" stroke-width="0.85"/>
<path d="M396.3 191.5L397.8 194.0L396.3 196.5L394.8 194.0Z" fill="#8060d0" stroke="#7050e0" stroke-width="0.85"/>
<circle cx="398.2" cy="192.6" r="1.65" fill="#707070" stroke="#c06060" stroke-width="0.85"/>
<path d="M399.7 187.5L401.2 190.0L399.7 192.5L398.2 190.0Z" fill="#e0e040" stroke="#60e020" stroke-width="0.85"/>
<circle cx="400.9" cy="201.5" r="1.65" fill="none" stroke="#40e0d0" stroke-width="0.85"/>
<circle cx="407.8" cy="181.4" r="1.65" fill="#50b0e0" stroke="#f050f0" stroke-width="0.85"/>
<circle cx="413.9" cy="197.0" r="1.65" fill="#f0c000" stroke="#f06020" stroke-width="0.85"/>
<path d="M423.1 184.3L426.9 184.3L425.0 187.7Z" fill="none" stroke="#e0d020" stroke-width="0.85"/>
<rect x="310.25" y="191.25" width="3.70" height="3.70" fill="none" stroke="#333" stroke-width="0.7"/>
<rect x="352.75" y="188.65" width="3.70" height="3.70" fill="#000" stroke="#000" stroke-width="0.9"/>
<polygon points="445.40,189.00 445.99,190.59 447.68,190.66 446.35,191.71 446.81,193.34 445.40,192.40 443.99,193.34 444.45,191.71 443.12,190.66 444.81,190.59" fill="#000"/>
<rect x="20.1" y="255.5" width="478.3" height="49.9" fill="#fff" stroke="#8a8a8a" stroke-width="1.1"/>
<line x1="20.700000000000003" y1="282.6" x2="497.79999999999995" y2="283.6" stroke="#9a9a9a" stroke-width="0.6" stroke-dasharray="1.4 1"/>
<line x1="17.9" y1="267.7" x2="19.6" y2="267.7" stroke="#444" stroke-width="0.6"/>
<text x="16.2" y="269.6" font-size="5.3" text-anchor="end" fill="#4d4d4d">2</text>
<line x1="17.9" y1="281.6" x2="19.6" y2="281.6" stroke="#444" stroke-width="0.6"/>
<text x="16.2" y="283.5" font-size="5.3" text-anchor="end" fill="#4d4d4d">1</text>
<line x1="17.9" y1="294.5" x2="19.6" y2="294.5" stroke="#444" stroke-width="0.6"/>
<text x="16.2" y="296.4" font-size="5.3" text-anchor="end" fill="#4d4d4d">0</text>
<line x1="58.4" y1="305.9" x2="58.4" y2="307.7" stroke="#333" stroke-width="0.7"/>
<line x1="113.7" y1="305.9" x2="113.7" y2="307.7" stroke="#333" stroke-width="0.7"/>
<line x1="168.9" y1="305.9" x2="168.9" y2="307.7" stroke="#333" stroke-width="0.7"/>
<line x1="224.2" y1="305.9" x2="224.2" y2="307.7" stroke="#333" stroke-width="0.7"/>
<line x1="279.4" y1="305.9" x2="279.4" y2="307.7" stroke="#333" stroke-width="0.7"/>
<line x1="334.7" y1="305.9" x2="334.7" y2="307.7" stroke="#333" stroke-width="0.7"/>
<line x1="389.9" y1="305.9" x2="389.9" y2="307.7" stroke="#333" stroke-width="0.7"/>
<line x1="445.2" y1="305.9" x2="445.2" y2="307.7" stroke="#333" stroke-width="0.7"/>
<text x="259.3" y="251.85" font-size="9.6" text-anchor="middle" fill="#1a1a1a">(d) Dec multi-model relation (NAE Corr versus CS TRWS)</text>
<text x="259.7" y="314.8" font-size="8" text-anchor="middle" fill="#1a1a1a">Pattern Correlation of Reg(Z200, Niño 3.4)</text>
<text transform="translate(6.7 279.9) rotate(-90)" font-size="6.4" text-anchor="middle" fill="#000">CS TRWS <tspan font-family="DejaVu Sans, sans-serif">[10<tspan font-size="4.4" dy="-2.2">−11</tspan><tspan font-style="italic" dy="2.2">s</tspan><tspan font-size="4.4" dy="-2.2">−2</tspan><tspan dy="2.2">]</tspan></tspan></text>
<text x="24.7" y="263.4" font-size="7.6"  fill="#111">-0.05</text>
<path d="M167.0 285.9L168.5 288.4L167.0 290.9L165.5 288.4Z" fill="#80c060" stroke="#50b040" stroke-width="0.85"/>
<path d="M180.2 292.0L181.7 294.5L180.2 297.0L178.7 294.5Z" fill="#9030d0" stroke="#b040f0" stroke-width="0.85"/>
<path d="M162.8 292.3L166.6 292.3L164.7 295.7Z" fill="#c040e0" stroke="#a040d0" stroke-width="0.85"/>
<circle cx="72.9" cy="270.5" r="1.65" fill="none" stroke="#f06050" stroke-width="0.85"/>
<circle cx="87.5" cy="293.3" r="1.65" fill="none" stroke="#88e848" stroke-width="0.85"/>
<circle cx="124.9" cy="292.1" r="1.65" fill="none" stroke="#5ae8a8" stroke-width="0.85"/>
<path d="M129.7 289.0L133.5 289.0L131.6 292.4Z" fill="none" stroke="#e8c828" stroke-width="0.85"/>
<path d="M132.2 278.0L133.7 280.5L132.2 283.0L130.7 280.5Z" fill="none" stroke="#f08030" stroke-width="0.85"/>
<path d="M133.8 291.1L135.3 293.6L133.8 296.1L132.3 293.6Z" fill="#3010a0" stroke="#4040e0" stroke-width="0.85"/>
<circle cx="138.3" cy="283.2" r="1.65" fill="none" stroke="#f060c8" stroke-width="0.85"/>
<path d="M146.6 289.9L148.1 292.4L146.6 294.9L145.1 292.4Z" fill="#e85030" stroke="#606050" stroke-width="0.85"/>
<path d="M148.4 285.5L149.9 288.0L148.4 290.5L146.9 288.0Z" fill="none" stroke="#f04848" stroke-width="0.85"/>
<path d="M151.4 273.8L152.9 276.3L151.4 278.8L149.9 276.3Z" fill="#e040e0" stroke="#40e0f0" stroke-width="0.85"/>
<circle cx="159.8" cy="285.0" r="1.65" fill="#f040d0" stroke="#f070d8" stroke-width="0.85"/>
<circle cx="165.0" cy="274.5" r="1.65" fill="#6050c0" stroke="#8060e0" stroke-width="0.85"/>
<path d="M166.3 258.4L167.8 260.9L166.3 263.4L164.8 260.9Z" fill="none" stroke="#a06050" stroke-width="0.85"/>
<path d="M169.8 271.5L173.6 271.5L171.7 274.9Z" fill="#40b0d0" stroke="#40e070" stroke-width="0.85"/>
<path d="M171.8 264.3L175.6 264.3L173.7 267.7Z" fill="none" stroke="#f080e0" stroke-width="0.85"/>
<circle cx="177.8" cy="277.5" r="1.65" fill="none" stroke="#a848f0" stroke-width="0.85"/>
<path d="M181.5 290.4L183.0 292.9L181.5 295.4L180.0 292.9Z" fill="none" stroke="#808080" stroke-width="0.85"/>
<path d="M186.8 286.4L190.6 286.4L188.7 289.8Z" fill="#6060f0" stroke="#4848f0" stroke-width="0.85"/>
<path d="M189.4 282.9L193.2 282.9L191.3 286.3Z" fill="#e06020" stroke="#60d020" stroke-width="0.85"/>
<path d="M191.1 274.1L194.9 274.1L193.0 277.5Z" fill="#60c020" stroke="#f05030" stroke-width="0.85"/>
<path d="M193.2 280.1L197.0 280.1L195.1 283.5Z" fill="none" stroke="#f05030" stroke-width="0.85"/>
<path d="M209.5 296.7L213.3 296.7L211.4 300.1Z" fill="none" stroke="#a030f0" stroke-width="0.85"/>
<path d="M219.2 285.3L223.0 285.3L221.1 288.7Z" fill="none" stroke="#50b0a0" stroke-width="0.85"/>
<path d="M221.9 273.8L223.4 276.3L221.9 278.8L220.4 276.3Z" fill="#40c0c0" stroke="#4060d0" stroke-width="0.85"/>
<path d="M223.2 274.1L227.0 274.1L225.1 277.5Z" fill="#40e0c0" stroke="#40c090" stroke-width="0.85"/>
<circle cx="226.0" cy="284.9" r="1.65" fill="none" stroke="#e8d030" stroke-width="0.85"/>
<circle cx="230.7" cy="293.8" r="1.65" fill="#80c040" stroke="#a040d0" stroke-width="0.85"/>
<circle cx="232.1" cy="282.8" r="1.65" fill="#806040" stroke="#a06030" stroke-width="0.85"/>
<path d="M234.7 267.1L236.2 269.6L234.7 272.1L233.2 269.6Z" fill="#e03000" stroke="#f09000" stroke-width="0.85"/>
<circle cx="235.6" cy="292.9" r="1.65" fill="none" stroke="#a040d0" stroke-width="0.85"/>
<path d="M237.2 284.1L241.0 284.1L239.1 287.5Z" fill="#40e020" stroke="#c0e020" stroke-width="0.85"/>
<path d="M243.3 264.0L244.8 266.5L243.3 269.0L241.8 266.5Z" fill="none" stroke="#50b030" stroke-width="0.85"/>
<path d="M242.4 282.3L246.2 282.3L244.3 285.7Z" fill="none" stroke="#4080f0" stroke-width="0.85"/>
<path d="M250.9 297.8L254.7 297.8L252.8 301.2Z" fill="none" stroke="#6030a0" stroke-width="0.85"/>
<path d="M251.8 270.2L255.6 270.2L253.7 273.6Z" fill="#a040c0" stroke="#f060e0" stroke-width="0.85"/>
<circle cx="253.7" cy="273.0" r="1.65" fill="#f03010" stroke="#f04010" stroke-width="0.85"/>
<circle cx="255.8" cy="263.0" r="1.65" fill="#303090" stroke="#4050c0" stroke-width="0.85"/>
<path d="M256.5 278.3L260.3 278.3L258.4 281.7Z" fill="#a040a0" stroke="#f06020" stroke-width="0.85"/>
<path d="M260.0 289.9L263.8 289.9L261.9 293.3Z" fill="none" stroke="#40e040" stroke-width="0.85"/>
<path d="M262.4 291.1L263.9 293.6L262.4 296.1L260.9 293.6Z" fill="none" stroke="#a050e0" stroke-width="0.85"/>
<path d="M265.2 273.6L269.0 273.6L267.1 277.0Z" fill="#5060f0" stroke="#4050f0" stroke-width="0.85"/>
<path d="M270.1 278.3L273.9 278.3L272.0 281.7Z" fill="none" stroke="#e040e0" stroke-width="0.85"/>
<path d="M274.9 267.1L278.7 267.1L276.8 270.5Z" fill="#c040c0" stroke="#60d020" stroke-width="0.85"/>
<circle cx="285.9" cy="290.7" r="1.65" fill="#3030c0" stroke="#5040e0" stroke-width="0.85"/>
<circle cx="293.8" cy="297.7" r="1.65" fill="none" stroke="#70e040" stroke-width="0.85"/>
<path d="M295.0 277.6L298.8 277.6L296.9 281.0Z" fill="none" stroke="#60e0f0" stroke-width="0.85"/>
<path d="M307.6 286.2L311.4 286.2L309.5 289.6Z" fill="none" stroke="#40d040" stroke-width="0.85"/>
<path d="M314.4 279.4L315.9 281.9L314.4 284.4L312.9 281.9Z" fill="#201090" stroke="#3030c0" stroke-width="0.85"/>
<path d="M314.4 281.1L315.9 283.6L314.4 286.1L312.9 283.6Z" fill="#f040c0" stroke="#f050d0" stroke-width="0.85"/>
<circle cx="321.1" cy="290.3" r="1.65" fill="none" stroke="#50c0f0" stroke-width="0.85"/>
<path d="M323.2 265.9L324.7 268.4L323.2 270.9L321.7 268.4Z" fill="none" stroke="#40c0d0" stroke-width="0.85"/>
<circle cx="323.7" cy="295.0" r="1.65" fill="none" stroke="#60e040" stroke-width="0.85"/>
<path d="M326.5 273.9L330.3 273.9L328.4 277.3Z" fill="none" stroke="#e040d0" stroke-width="0.85"/>
<path d="M335.4 279.9L336.9 282.4L335.4 284.9L333.9 282.4Z" fill="none" stroke="#f04040" stroke-width="0.85"/>
<circle cx="338.1" cy="279.6" r="1.65" fill="#70f020" stroke="#60e020" stroke-width="0.85"/>
<circle cx="344.7" cy="274.4" r="1.65" fill="#b03020" stroke="#c03020" stroke-width="0.85"/>
<path d="M349.5 280.6L351.0 283.1L349.5 285.6L348.0 283.1Z" fill="none" stroke="#e060e0" stroke-width="0.85"/>
<path d="M359.0 289.7L360.5 292.2L359.0 294.7L357.5 292.2Z" fill="none" stroke="#5060f0" stroke-width="0.85"/>
<path d="M360.0 282.9L363.8 282.9L361.9 286.3Z" fill="#40e0e0" stroke="#40c0c0" stroke-width="0.85"/>
<path d="M362.6 277.6L364.1 280.1L362.6 282.6L361.1 280.1Z" fill="#a040c0" stroke="#a0a030" stroke-width="0.85"/>
<circle cx="363.3" cy="278.0" r="1.65" fill="#a040c0" stroke="#b060f0" stroke-width="0.85"/>
<circle cx="373.7" cy="286.3" r="1.65" fill="none" stroke="#f09050" stroke-width="0.85"/>
<path d="M377.0 286.4L378.5 288.9L377.0 291.4L375.5 288.9Z" fill="#806040" stroke="#508040" stroke-width="0.85"/>
<path d="M379.4 287.0L380.9 289.5L379.4 292.0L377.9 289.5Z" fill="#205050" stroke="#f07020" stroke-width="0.85"/>
<path d="M378.1 284.6L381.9 284.6L380.0 288.0Z" fill="#e060c0" stroke="#40e0b0" stroke-width="0.85"/>
<path d="M380.6 278.5L382.1 281.0L380.6 283.5L379.1 281.0Z" fill="none" stroke="#c0c040" stroke-width="0.85"/>
<path d="M382.6 289.4L386.4 289.4L384.5 292.8Z" fill="#a0e020" stroke="#60e020" stroke-width="0.85"/>
<circle cx="385.0" cy="285.0" r="1.65" fill="#805040" stroke="#60b040" stroke-width="0.85"/>
<circle cx="387.2" cy="283.3" r="1.65" fill="#201090" stroke="#3030c0" stroke-width="0.85"/>
<circle cx="390.3" cy="283.6" r="1.65" fill="#50a030" stroke="#60b040" stroke-width="0.85"/>
<path d="M391.6 282.9L393.1 285.4L391.6 287.9L390.1 285.4Z" fill="#e03030" stroke="#c02020" stroke-width="0.85"/>
<path d="M391.3 291.3L392.8 293.8L391.3 296.3L389.8 293.8Z" fill="#e03000" stroke="#f08020" stroke-width="0.85"/>
<circle cx="392.9" cy="278.9" r="1.65" fill="none" stroke="#f060c0" stroke-width="0.85"/>
<circle cx="393.6" cy="275.4" r="1.65" fill="none" stroke="#d0a040" stroke-width="0.85"/>
<path d="M396.3 278.9L397.8 281.4L396.3 283.9L394.8 281.4Z" fill="#8060d0" stroke="#7050e0" stroke-width="0.85"/>
<circle cx="398.2" cy="291.0" r="1.65" fill="#707070" stroke="#c06060" stroke-width="0.85"/>
<path d="M399.7 275.5L401.2 278.0L399.7 280.5L398.2 278.0Z" fill="#e0e040" stroke="#60e020" stroke-width="0.85"/>
<circle cx="400.9" cy="279.6" r="1.65" fill="none" stroke="#40e0d0" stroke-width="0.85"/>
<circle cx="407.8" cy="283.3" r="1.65" fill="#50b0e0" stroke="#f050f0" stroke-width="0.85"/>
<circle cx="413.9" cy="291.9" r="1.65" fill="#f0c000" stroke="#f06020" stroke-width="0.85"/>
<path d="M423.1 288.1L426.9 288.1L425.0 291.5Z" fill="none" stroke="#e0d020" stroke-width="0.85"/>
<rect x="310.25" y="282.65" width="3.70" height="3.70" fill="none" stroke="#333" stroke-width="0.7"/>
<rect x="352.75" y="280.55" width="3.70" height="3.70" fill="#000" stroke="#000" stroke-width="0.9"/>
<polygon points="445.40,285.10 445.99,286.69 447.68,286.76 446.35,287.81 446.81,289.44 445.40,288.50 443.99,289.44 444.45,287.81 443.12,286.76 444.81,286.69" fill="#000"/>
<rect x="20.1" y="335.1" width="478.3" height="49.3" fill="#fff" stroke="#8a8a8a" stroke-width="1.1"/>
<line x1="20.700000000000003" y1="361.4" x2="497.79999999999995" y2="356.3" stroke="#9a9a9a" stroke-width="0.6" stroke-dasharray="1.4 1"/>
<line x1="17.9" y1="346.6" x2="19.6" y2="346.6" stroke="#444" stroke-width="0.6"/>
<text x="16.2" y="348.5" font-size="5.3" text-anchor="end" fill="#4d4d4d">0</text>
<line x1="17.9" y1="364.3" x2="19.6" y2="364.3" stroke="#444" stroke-width="0.6"/>
<text x="16.2" y="366.2" font-size="5.3" text-anchor="end" fill="#4d4d4d">−1</text>
<line x1="17.9" y1="382.0" x2="19.6" y2="382.0" stroke="#444" stroke-width="0.6"/>
<text x="16.2" y="383.9" font-size="5.3" text-anchor="end" fill="#4d4d4d">−2</text>
<line x1="58.4" y1="384.9" x2="58.4" y2="386.7" stroke="#333" stroke-width="0.7"/>
<line x1="113.7" y1="384.9" x2="113.7" y2="386.7" stroke="#333" stroke-width="0.7"/>
<line x1="168.9" y1="384.9" x2="168.9" y2="386.7" stroke="#333" stroke-width="0.7"/>
<line x1="224.2" y1="384.9" x2="224.2" y2="386.7" stroke="#333" stroke-width="0.7"/>
<line x1="279.4" y1="384.9" x2="279.4" y2="386.7" stroke="#333" stroke-width="0.7"/>
<line x1="334.7" y1="384.9" x2="334.7" y2="386.7" stroke="#333" stroke-width="0.7"/>
<line x1="389.9" y1="384.9" x2="389.9" y2="386.7" stroke="#333" stroke-width="0.7"/>
<line x1="445.2" y1="384.9" x2="445.2" y2="386.7" stroke="#333" stroke-width="0.7"/>
<text x="259.3" y="331.45" font-size="9.6" text-anchor="middle" fill="#1a1a1a">(e) Dec multi-model relation (NAE Corr versus GM TRWS)</text>
<text x="259.7" y="400.8" font-size="8" text-anchor="middle" fill="#1a1a1a">Pattern Correlation of Reg(Z200, Niño 3.4)</text>
<text transform="translate(6.7 359.2) rotate(-90)" font-size="6.4" text-anchor="middle" fill="#000">GM TRWS <tspan font-family="DejaVu Sans, sans-serif">[10<tspan font-size="4.4" dy="-2.2">−11</tspan><tspan font-style="italic" dy="2.2">s</tspan><tspan font-size="4.4" dy="-2.2">−2</tspan><tspan dy="2.2">]</tspan></tspan></text>
<text x="24.7" y="343.0" font-size="7.6"  fill="#111">0.15</text>
<path d="M167.0 361.5L168.5 364.0L167.0 366.5L165.5 364.0Z" fill="#80c060" stroke="#50b040" stroke-width="0.85"/>
<path d="M180.2 341.4L181.7 343.9L180.2 346.4L178.7 343.9Z" fill="#9030d0" stroke="#b040f0" stroke-width="0.85"/>
<path d="M162.8 352.1L166.6 352.1L164.7 355.5Z" fill="#c040e0" stroke="#a040d0" stroke-width="0.85"/>
<circle cx="72.9" cy="358.3" r="1.65" fill="none" stroke="#f06050" stroke-width="0.85"/>
<circle cx="87.5" cy="340.4" r="1.65" fill="none" stroke="#88e848" stroke-width="0.85"/>
<circle cx="124.9" cy="357.0" r="1.65" fill="none" stroke="#5ae8a8" stroke-width="0.85"/>
<path d="M129.7 344.2L133.5 344.2L131.6 347.6Z" fill="none" stroke="#e8c828" stroke-width="0.85"/>
<path d="M132.2 375.9L133.7 378.4L132.2 380.9L130.7 378.4Z" fill="none" stroke="#f08030" stroke-width="0.85"/>
<path d="M133.8 362.2L135.3 364.7L133.8 367.2L132.3 364.7Z" fill="#3010a0" stroke="#4040e0" stroke-width="0.85"/>
<circle cx="138.3" cy="356.0" r="1.65" fill="none" stroke="#f060c8" stroke-width="0.85"/>
<path d="M146.6 342.6L148.1 345.1L146.6 347.6L145.1 345.1Z" fill="#e85030" stroke="#606050" stroke-width="0.85"/>
<path d="M148.4 361.5L149.9 364.0L148.4 366.5L146.9 364.0Z" fill="none" stroke="#f04848" stroke-width="0.85"/>
<path d="M151.4 360.1L152.9 362.6L151.4 365.1L149.9 362.6Z" fill="#e040e0" stroke="#40e0f0" stroke-width="0.85"/>
<circle cx="159.8" cy="359.5" r="1.65" fill="#f040d0" stroke="#f070d8" stroke-width="0.85"/>
<circle cx="165.0" cy="374.9" r="1.65" fill="#6050c0" stroke="#8060e0" stroke-width="0.85"/>
<path d="M166.3 368.4L167.8 370.9L166.3 373.4L164.8 370.9Z" fill="none" stroke="#a06050" stroke-width="0.85"/>
<path d="M169.8 361.3L173.6 361.3L171.7 364.7Z" fill="#40b0d0" stroke="#40e070" stroke-width="0.85"/>
<path d="M171.8 363.1L175.6 363.1L173.7 366.5Z" fill="none" stroke="#f080e0" stroke-width="0.85"/>
<circle cx="177.8" cy="369.7" r="1.65" fill="none" stroke="#a848f0" stroke-width="0.85"/>
<path d="M181.5 340.0L183.0 342.5L181.5 345.0L180.0 342.5Z" fill="none" stroke="#808080" stroke-width="0.85"/>
<path d="M186.8 361.3L190.6 361.3L188.7 364.7Z" fill="#6060f0" stroke="#4848f0" stroke-width="0.85"/>
<path d="M189.4 360.1L193.2 360.1L191.3 363.5Z" fill="#e06020" stroke="#60d020" stroke-width="0.85"/>
<path d="M191.1 352.6L194.9 352.6L193.0 356.0Z" fill="#60c020" stroke="#f05030" stroke-width="0.85"/>
<path d="M193.2 365.7L197.0 365.7L195.1 369.1Z" fill="none" stroke="#f05030" stroke-width="0.85"/>
<path d="M209.5 355.2L213.3 355.2L211.4 358.6Z" fill="none" stroke="#a030f0" stroke-width="0.85"/>
<path d="M219.2 348.2L223.0 348.2L221.1 351.6Z" fill="none" stroke="#50b0a0" stroke-width="0.85"/>
<path d="M221.9 370.3L223.4 372.8L221.9 375.3L220.4 372.8Z" fill="#40c0c0" stroke="#4060d0" stroke-width="0.85"/>
<path d="M223.2 362.2L227.0 362.2L225.1 365.6Z" fill="#40e0c0" stroke="#40c090" stroke-width="0.85"/>
<circle cx="226.0" cy="358.8" r="1.65" fill="none" stroke="#e8d030" stroke-width="0.85"/>
<circle cx="230.7" cy="349.0" r="1.65" fill="#80c040" stroke="#a040d0" stroke-width="0.85"/>
<circle cx="232.1" cy="357.4" r="1.65" fill="#806040" stroke="#a06030" stroke-width="0.85"/>
<path d="M234.7 376.8L236.2 379.3L234.7 381.8L233.2 379.3Z" fill="#e03000" stroke="#f09000" stroke-width="0.85"/>
<circle cx="235.6" cy="349.9" r="1.65" fill="none" stroke="#a040d0" stroke-width="0.85"/>
<path d="M237.2 356.1L241.0 356.1L239.1 359.5Z" fill="#40e020" stroke="#c0e020" stroke-width="0.85"/>
<path d="M243.3 373.6L244.8 376.1L243.3 378.6L241.8 376.1Z" fill="none" stroke="#50b030" stroke-width="0.85"/>
<path d="M242.4 359.2L246.2 359.2L244.3 362.6Z" fill="none" stroke="#4080f0" stroke-width="0.85"/>
<path d="M250.9 349.4L254.7 349.4L252.8 352.8Z" fill="none" stroke="#6030a0" stroke-width="0.85"/>
<path d="M251.8 355.2L255.6 355.2L253.7 358.6Z" fill="#a040c0" stroke="#f060e0" stroke-width="0.85"/>
<circle cx="253.7" cy="363.2" r="1.65" fill="#f03010" stroke="#f04010" stroke-width="0.85"/>
<circle cx="255.8" cy="370.0" r="1.65" fill="#303090" stroke="#4050c0" stroke-width="0.85"/>
<path d="M256.5 355.2L260.3 355.2L258.4 358.6Z" fill="#a040a0" stroke="#f06020" stroke-width="0.85"/>
<path d="M260.0 355.2L263.8 355.2L261.9 358.6Z" fill="none" stroke="#40e040" stroke-width="0.85"/>
<path d="M262.4 349.6L263.9 352.1L262.4 354.6L260.9 352.1Z" fill="none" stroke="#a050e0" stroke-width="0.85"/>
<path d="M265.2 353.1L269.0 353.1L267.1 356.5Z" fill="#5060f0" stroke="#4050f0" stroke-width="0.85"/>
<path d="M270.1 346.1L273.9 346.1L272.0 349.5Z" fill="none" stroke="#e040e0" stroke-width="0.85"/>
<path d="M274.9 363.4L278.7 363.4L276.8 366.8Z" fill="#c040c0" stroke="#60d020" stroke-width="0.85"/>
<circle cx="285.9" cy="362.1" r="1.65" fill="#3030c0" stroke="#5040e0" stroke-width="0.85"/>
<circle cx="293.8" cy="358.8" r="1.65" fill="none" stroke="#70e040" stroke-width="0.85"/>
<path d="M295.0 363.6L298.8 363.6L296.9 367.0Z" fill="none" stroke="#60e0f0" stroke-width="0.85"/>
<path d="M307.6 363.1L311.4 363.1L309.5 366.5Z" fill="none" stroke="#40d040" stroke-width="0.85"/>
<path d="M314.4 353.1L315.9 355.6L314.4 358.1L312.9 355.6Z" fill="#201090" stroke="#3030c0" stroke-width="0.85"/>
<path d="M314.4 357.0L315.9 359.5L314.4 362.0L312.9 359.5Z" fill="#f040c0" stroke="#f050d0" stroke-width="0.85"/>
<circle cx="321.1" cy="350.0" r="1.65" fill="none" stroke="#50c0f0" stroke-width="0.85"/>
<path d="M323.2 363.7L324.7 366.2L323.2 368.7L321.7 366.2Z" fill="none" stroke="#40c0d0" stroke-width="0.85"/>
<circle cx="323.7" cy="350.0" r="1.65" fill="none" stroke="#60e040" stroke-width="0.85"/>
<path d="M326.5 357.3L330.3 357.3L328.4 360.7Z" fill="none" stroke="#e040d0" stroke-width="0.85"/>
<path d="M335.4 368.0L336.9 370.5L335.4 373.0L333.9 370.5Z" fill="none" stroke="#f04040" stroke-width="0.85"/>
<circle cx="338.1" cy="345.5" r="1.65" fill="#70f020" stroke="#60e020" stroke-width="0.85"/>
<circle cx="344.7" cy="361.4" r="1.65" fill="#b03020" stroke="#c03020" stroke-width="0.85"/>
<path d="M349.5 357.2L351.0 359.7L349.5 362.2L348.0 359.7Z" fill="none" stroke="#e060e0" stroke-width="0.85"/>
<path d="M359.0 350.2L360.5 352.7L359.0 355.2L357.5 352.7Z" fill="none" stroke="#5060f0" stroke-width="0.85"/>
<path d="M360.0 349.1L363.8 349.1L361.9 352.5Z" fill="#40e0e0" stroke="#40c0c0" stroke-width="0.85"/>
<path d="M362.6 363.1L364.1 365.6L362.6 368.1L361.1 365.6Z" fill="#a040c0" stroke="#a0a030" stroke-width="0.85"/>
<circle cx="363.3" cy="367.9" r="1.65" fill="#a040c0" stroke="#b060f0" stroke-width="0.85"/>
<circle cx="373.7" cy="348.6" r="1.65" fill="none" stroke="#f09050" stroke-width="0.85"/>
<path d="M377.0 347.4L378.5 349.9L377.0 352.4L375.5 349.9Z" fill="#806040" stroke="#508040" stroke-width="0.85"/>
<path d="M379.4 356.6L380.9 359.1L379.4 361.6L377.9 359.1Z" fill="#205050" stroke="#f07020" stroke-width="0.85"/>
<path d="M378.1 350.0L381.9 350.0L380.0 353.4Z" fill="#e060c0" stroke="#40e0b0" stroke-width="0.85"/>
<path d="M380.6 350.9L382.1 353.4L380.6 355.9L379.1 353.4Z" fill="none" stroke="#c0c040" stroke-width="0.85"/>
<path d="M382.6 345.6L386.4 345.6L384.5 349.0Z" fill="#a0e020" stroke="#60e020" stroke-width="0.85"/>
<circle cx="385.0" cy="354.2" r="1.65" fill="#805040" stroke="#60b040" stroke-width="0.85"/>
<circle cx="387.2" cy="362.6" r="1.65" fill="#201090" stroke="#3030c0" stroke-width="0.85"/>
<circle cx="390.3" cy="363.0" r="1.65" fill="#50a030" stroke="#60b040" stroke-width="0.85"/>
<path d="M391.6 356.6L393.1 359.1L391.6 361.6L390.1 359.1Z" fill="#e03030" stroke="#c02020" stroke-width="0.85"/>
<path d="M391.3 356.6L392.8 359.1L391.3 361.6L389.8 359.1Z" fill="#e03000" stroke="#f08020" stroke-width="0.85"/>
<circle cx="392.9" cy="356.9" r="1.65" fill="none" stroke="#f060c0" stroke-width="0.85"/>
<circle cx="393.6" cy="363.2" r="1.65" fill="none" stroke="#d0a040" stroke-width="0.85"/>
<path d="M396.3 355.4L397.8 357.9L396.3 360.4L394.8 357.9Z" fill="#8060d0" stroke="#7050e0" stroke-width="0.85"/>
<circle cx="398.2" cy="363.9" r="1.65" fill="#707070" stroke="#c06060" stroke-width="0.85"/>
<path d="M399.7 350.5L401.2 353.0L399.7 355.5L398.2 353.0Z" fill="#e0e040" stroke="#60e020" stroke-width="0.85"/>
<circle cx="400.9" cy="352.7" r="1.65" fill="none" stroke="#40e0d0" stroke-width="0.85"/>
<circle cx="407.8" cy="345.7" r="1.65" fill="#50b0e0" stroke="#f050f0" stroke-width="0.85"/>
<circle cx="413.9" cy="354.4" r="1.65" fill="#f0c000" stroke="#f06020" stroke-width="0.85"/>
<path d="M423.1 357.3L426.9 357.3L425.0 360.7Z" fill="none" stroke="#e0d020" stroke-width="0.85"/>
<rect x="310.25" y="356.05" width="3.70" height="3.70" fill="none" stroke="#333" stroke-width="0.7"/>
<rect x="352.75" y="356.75" width="3.70" height="3.70" fill="#000" stroke="#000" stroke-width="0.9"/>
<polygon points="445.40,349.70 445.99,351.29 447.68,351.36 446.35,352.41 446.81,354.04 445.40,353.10 443.99,354.04 444.45,352.41 443.12,351.36 444.81,351.29" fill="#000"/>
<text x="58.4" y="392.5" font-size="5.5" text-anchor="middle" fill="#3d3d3d">−0.75</text>
<text x="113.7" y="392.5" font-size="5.5" text-anchor="middle" fill="#3d3d3d">−0.50</text>
<text x="168.9" y="392.5" font-size="5.5" text-anchor="middle" fill="#3d3d3d">−0.25</text>
<text x="224.2" y="392.5" font-size="5.5" text-anchor="middle" fill="#3d3d3d">0.00</text>
<text x="279.4" y="392.5" font-size="5.5" text-anchor="middle" fill="#3d3d3d">0.25</text>
<text x="334.7" y="392.5" font-size="5.5" text-anchor="middle" fill="#3d3d3d">0.50</text>
<text x="389.9" y="392.5" font-size="5.5" text-anchor="middle" fill="#3d3d3d">0.75</text>
<text x="445.2" y="392.5" font-size="5.5" text-anchor="middle" fill="#3d3d3d">1.00</text>
<path d="M518.4 1.6L519.7 3.7L518.4 5.8L517.1 3.7Z" fill="#3010a0" stroke="#4040e0" stroke-width="0.85"/>
<text x="530.0" y="5.75" font-size="6.35" fill="#1a1a1a">ACCESS-ESM1-5</text>
<path d="M518.4 10.6L519.7 12.7L518.4 14.8L517.1 12.7Z" fill="#206060" stroke="#e08040" stroke-width="0.85"/>
<text x="530.0" y="14.77" font-size="6.35" fill="#1a1a1a">HadGEM3-GC31-LL</text>
<path d="M518.4 19.6L519.7 21.7L518.4 23.9L517.1 21.7Z" fill="#c0c060" stroke="#60c040" stroke-width="0.85"/>
<text x="530.0" y="23.79" font-size="6.35" fill="#1a1a1a">CMCC-CM2-HR4</text>
<path d="M518.4 28.6L519.7 30.8L518.4 32.9L517.1 30.8Z" fill="#a02020" stroke="#e03030" stroke-width="0.85"/>
<text x="530.0" y="32.81" font-size="6.35" fill="#1a1a1a">CESM2</text>
<path d="M518.4 37.7L519.7 39.8L518.4 41.9L517.1 39.8Z" fill="#6060c0" stroke="#8080e0" stroke-width="0.85"/>
<text x="530.0" y="41.83" font-size="6.35" fill="#1a1a1a">NorCPM1</text>
<path d="M518.4 46.7L519.7 48.8L518.4 50.9L517.1 48.8Z" fill="#805030" stroke="#409040" stroke-width="0.85"/>
<text x="530.0" y="50.85" font-size="6.35" fill="#1a1a1a">CIESM</text>
<path d="M518.4 55.7L519.7 57.8L518.4 59.9L517.1 57.8Z" fill="#a020c0" stroke="#c040f0" stroke-width="0.85"/>
<text x="530.0" y="59.87" font-size="6.35" fill="#1a1a1a">INM-CM4-8</text>
<path d="M518.4 64.7L519.7 66.8L518.4 69.0L517.1 66.8Z" fill="#806060" stroke="#e06060" stroke-width="0.85"/>
<text x="530.0" y="68.89" font-size="6.35" fill="#1a1a1a">CNRM-CM6-1-HR</text>
<path d="M518.4 73.7L519.7 75.9L518.4 78.0L517.1 75.9Z" fill="#c0a040" stroke="#a060d0" stroke-width="0.85"/>
<text x="530.0" y="77.91" font-size="6.35" fill="#1a1a1a">CMCC-ESM2</text>
<path d="M518.4 82.8L519.7 84.9L518.4 87.0L517.1 84.9Z" fill="#e040e0" stroke="#40e0f0" stroke-width="0.85"/>
<text x="530.0" y="86.93" font-size="6.35" fill="#1a1a1a">CESM2-WACCM</text>
<path d="M518.4 91.8L519.7 93.9L518.4 96.0L517.1 93.9Z" fill="#201080" stroke="#3030c0" stroke-width="0.85"/>
<text x="530.0" y="95.95" font-size="6.35" fill="#1a1a1a">MPI-ESM1-2-HR</text>
<path d="M518.4 100.8L519.7 102.9L518.4 105.0L517.1 102.9Z" fill="#e08040" stroke="#f05020" stroke-width="0.85"/>
<text x="530.0" y="104.97" font-size="6.35" fill="#1a1a1a">MPI-ESM1-2-LR</text>
<path d="M518.4 109.8L519.7 111.9L518.4 114.1L517.1 111.9Z" fill="#60d060" stroke="#80e040" stroke-width="0.85"/>
<text x="530.0" y="113.99" font-size="6.35" fill="#1a1a1a">CNRM-CM6-1</text>
<path d="M518.4 118.8L519.7 121.0L518.4 123.1L517.1 121.0Z" fill="#e03000" stroke="#f09000" stroke-width="0.85"/>
<text x="530.0" y="123.01" font-size="6.35" fill="#1a1a1a">GISS-E2-1-H</text>
<path d="M518.4 127.9L519.7 130.0L518.4 132.1L517.1 130.0Z" fill="#e040e0" stroke="#f050c0" stroke-width="0.85"/>
<text x="530.0" y="132.03" font-size="6.35" fill="#1a1a1a">EC-Earth3-AerChem</text>
<path d="M518.4 136.9L519.7 139.0L518.4 141.1L517.1 139.0Z" fill="#60c0c0" stroke="#4060d0" stroke-width="0.85"/>
<text x="530.0" y="141.05" font-size="6.35" fill="#1a1a1a">CMCC-CM2-SR5</text>
<path d="M516.6 146.9L520.1 146.9L518.4 150.8Z" fill="#40e0c0" stroke="#60c0b0" stroke-width="0.85"/>
<text x="530.0" y="150.07" font-size="6.35" fill="#1a1a1a">MRI-ESM2-0</text>
<path d="M516.6 155.9L520.1 155.9L518.4 159.8Z" fill="#60c020" stroke="#f05020" stroke-width="0.85"/>
<text x="530.0" y="159.09" font-size="6.35" fill="#1a1a1a">SAM0-UNICON</text>
<path d="M516.6 164.9L520.1 164.9L518.4 168.8Z" fill="#40e020" stroke="#e0e020" stroke-width="0.85"/>
<text x="530.0" y="168.11" font-size="6.35" fill="#1a1a1a">IPSL-CM6A-LR</text>
<path d="M516.6 173.9L520.1 173.9L518.4 177.8Z" fill="#40c0e0" stroke="#40e0a0" stroke-width="0.85"/>
<text x="530.0" y="177.13" font-size="6.35" fill="#1a1a1a">MIROC-ES2H</text>
<path d="M516.6 182.9L520.1 182.9L518.4 186.8Z" fill="#e040c0" stroke="#60c0f0" stroke-width="0.85"/>
<text x="530.0" y="186.15" font-size="6.35" fill="#1a1a1a">CanESM5-CanOE</text>
<path d="M516.6 192.0L520.1 192.0L518.4 195.9Z" fill="#4060f0" stroke="#4040f0" stroke-width="0.85"/>
<text x="530.0" y="195.17" font-size="6.35" fill="#1a1a1a">CESM2-FV2</text>
<path d="M516.6 201.0L520.1 201.0L518.4 204.9Z" fill="#e02060" stroke="#a040c0" stroke-width="0.85"/>
<text x="530.0" y="204.19" font-size="6.35" fill="#1a1a1a">MCM-UA-1-0</text>
<path d="M516.6 210.0L520.1 210.0L518.4 213.9Z" fill="#a040c0" stroke="#e080f0" stroke-width="0.85"/>
<text x="530.0" y="213.21" font-size="6.35" fill="#1a1a1a">ACCESS-CM2</text>
<path d="M516.6 219.0L520.1 219.0L518.4 222.9Z" fill="#e0a000" stroke="#a0e040" stroke-width="0.85"/>
<text x="530.0" y="222.23" font-size="6.35" fill="#1a1a1a">MIROC6</text>
<path d="M516.6 228.0L520.1 228.0L518.4 231.9Z" fill="#e04040" stroke="#c03080" stroke-width="0.85"/>
<text x="530.0" y="231.25" font-size="6.35" fill="#1a1a1a">FIO-ESM-2-0</text>
<path d="M516.6 237.1L520.1 237.1L518.4 241.0Z" fill="#8040e0" stroke="#6060f0" stroke-width="0.85"/>
<text x="530.0" y="240.27" font-size="6.35" fill="#1a1a1a">EC-Earth3-CC</text>
<path d="M516.6 246.1L520.1 246.1L518.4 250.0Z" fill="#8060f0" stroke="#f060e0" stroke-width="0.85"/>
<text x="530.0" y="249.29" font-size="6.35" fill="#1a1a1a">CESM2-WACCM-FV2</text>
<path d="M516.6 255.1L520.1 255.1L518.4 259.0Z" fill="#40c0c0" stroke="#40e0e0" stroke-width="0.85"/>
<text x="530.0" y="258.31" font-size="6.35" fill="#1a1a1a">BCC-ESM1</text>
<path d="M516.6 264.1L520.1 264.1L518.4 268.0Z" fill="#e0e040" stroke="#60e040" stroke-width="0.85"/>
<text x="530.0" y="267.33" font-size="6.35" fill="#1a1a1a">MPI-ESM-1-2-HAM</text>
<path d="M516.6 273.1L520.1 273.1L518.4 277.0Z" fill="#e02020" stroke="#40a040" stroke-width="0.85"/>
<text x="530.0" y="276.35" font-size="6.35" fill="#1a1a1a">KACE-1-0-G</text>
<path d="M516.6 282.2L520.1 282.2L518.4 286.1Z" fill="#40e0c0" stroke="#40c0a0" stroke-width="0.85"/>
<text x="530.0" y="285.37" font-size="6.35" fill="#1a1a1a">GFDL-ESM4</text>
<circle cx="518.4" cy="292.3" r="1.40" fill="#2020a0" stroke="#303090" stroke-width="0.85"/>
<text x="530.0" y="294.39" font-size="6.35" fill="#1a1a1a">E3SM-1-0</text>
<circle cx="518.4" cy="301.4" r="1.40" fill="#f040e0" stroke="#f060c0" stroke-width="0.85"/>
<text x="530.0" y="303.41" font-size="6.35" fill="#1a1a1a">KIOST-ESM</text>
<circle cx="518.4" cy="310.4" r="1.40" fill="#e0c040" stroke="#f08020" stroke-width="0.85"/>
<text x="530.0" y="312.43" font-size="6.35" fill="#1a1a1a">IITM-ESM</text>
<circle cx="518.4" cy="319.4" r="1.40" fill="#80e040" stroke="#60e020" stroke-width="0.85"/>
<text x="530.0" y="321.45" font-size="6.35" fill="#1a1a1a">E3SM-1-1</text>
<circle cx="518.4" cy="328.4" r="1.40" fill="#e04020" stroke="#f04010" stroke-width="0.85"/>
<text x="530.0" y="330.47" font-size="6.35" fill="#1a1a1a">E3SM-1-1-ECA</text>
<circle cx="518.4" cy="337.4" r="1.40" fill="#4040e0" stroke="#4040c0" stroke-width="0.85"/>
<text x="530.0" y="339.49" font-size="6.35" fill="#1a1a1a">AWI-CM-1-1-MR</text>
<circle cx="518.4" cy="346.5" r="1.40" fill="#40c0e0" stroke="#c060e0" stroke-width="0.85"/>
<text x="530.0" y="348.51" font-size="6.35" fill="#1a1a1a">ICON-ESM-LR</text>
<circle cx="518.4" cy="355.5" r="1.40" fill="#a060a0" stroke="#c0a060" stroke-width="0.85"/>
<text x="530.0" y="357.53" font-size="6.35" fill="#1a1a1a">INM-CM5-0</text>
<circle cx="518.4" cy="364.5" r="1.40" fill="#806040" stroke="#c06060" stroke-width="0.85"/>
<text x="530.0" y="366.55" font-size="6.35" fill="#1a1a1a">EC-Earth3-Veg-LR</text>
<circle cx="518.4" cy="373.5" r="1.40" fill="#c040c0" stroke="#c060f0" stroke-width="0.85"/>
<text x="530.0" y="375.57" font-size="6.35" fill="#1a1a1a">FGOALS-f3-L</text>
<circle cx="518.4" cy="382.5" r="1.40" fill="#804040" stroke="#408040" stroke-width="0.85"/>
<text x="530.0" y="384.59" font-size="6.35" fill="#1a1a1a">FGOALS-g3</text>
<circle cx="518.4" cy="391.6" r="1.40" fill="#8080c0" stroke="#6060e0" stroke-width="0.85"/>
<text x="530.0" y="393.61" font-size="6.35" fill="#1a1a1a">TaiESM1</text>
<circle cx="611.4" cy="3.7" r="1.40" fill="#c02020" stroke="#c02020" stroke-width="0.85"/>
<text x="623.3" y="5.75" font-size="6.35" fill="#1a1a1a">NorESM2-MM</text>
<circle cx="611.4" cy="12.7" r="1.40" fill="#40c020" stroke="#40c020" stroke-width="0.85"/>
<text x="623.3" y="14.77" font-size="6.35" fill="#1a1a1a">HadGEM3-GC31-MM</text>
<circle cx="611.4" cy="21.7" r="1.40" fill="#c07020" stroke="#c07020" stroke-width="0.85"/>
<text x="623.3" y="23.79" font-size="6.35" fill="#1a1a1a">NESM3</text>
<circle cx="611.4" cy="30.8" r="1.40" fill="#4060c0" stroke="#4060c0" stroke-width="0.85"/>
<text x="623.3" y="32.81" font-size="6.35" fill="#1a1a1a">MIROC-ES2L</text>
<path d="M611.4 37.7L612.7 39.8L611.4 41.9L610.1 39.8Z" fill="none" stroke="#f08030" stroke-width="0.85"/>
<text x="623.3" y="41.83" font-size="6.35" fill="#1a1a1a">cmcc-cesm</text>
<path d="M611.4 46.7L612.7 48.8L611.4 50.9L610.1 48.8Z" fill="none" stroke="#40c040" stroke-width="0.85"/>
<text x="623.3" y="50.85" font-size="6.35" fill="#1a1a1a">miroc5</text>
<path d="M611.4 55.7L612.7 57.8L611.4 59.9L610.1 57.8Z" fill="none" stroke="#f04040" stroke-width="0.85"/>
<text x="623.3" y="59.87" font-size="6.35" fill="#1a1a1a">access1-0</text>
<path d="M611.4 64.7L612.7 66.8L611.4 69.0L610.1 66.8Z" fill="none" stroke="#a060f0" stroke-width="0.85"/>
<text x="623.3" y="68.89" font-size="6.35" fill="#1a1a1a">csiro-mk3l-1-2</text>
<path d="M611.4 73.7L612.7 75.9L611.4 78.0L610.1 75.9Z" fill="none" stroke="#a06050" stroke-width="0.85"/>
<text x="623.3" y="77.91" font-size="6.35" fill="#1a1a1a">cesm1-waccm</text>
<path d="M611.4 82.8L612.7 84.9L611.4 87.0L610.1 84.9Z" fill="none" stroke="#f060f0" stroke-width="0.85"/>
<text x="623.3" y="86.93" font-size="6.35" fill="#1a1a1a">noresm1-m</text>
<path d="M611.4 91.8L612.7 93.9L611.4 96.0L610.1 93.9Z" fill="none" stroke="#909090" stroke-width="0.85"/>
<text x="623.3" y="95.95" font-size="6.35" fill="#1a1a1a">mpi-esm-mr</text>
<path d="M611.4 100.8L612.7 102.9L611.4 105.0L610.1 102.9Z" fill="none" stroke="#c0d040" stroke-width="0.85"/>
<text x="623.3" y="104.97" font-size="6.35" fill="#1a1a1a">cesm1-cam5</text>
<path d="M611.4 109.8L612.7 111.9L611.4 114.1L610.1 111.9Z" fill="none" stroke="#60d0f0" stroke-width="0.85"/>
<text x="623.3" y="113.99" font-size="6.35" fill="#1a1a1a">fio-esm</text>
<path d="M611.4 118.8L612.7 121.0L611.4 123.1L610.1 121.0Z" fill="none" stroke="#4060f0" stroke-width="0.85"/>
<text x="623.3" y="123.01" font-size="6.35" fill="#1a1a1a">mri-cgcm3</text>
<path d="M611.4 127.9L612.7 130.0L611.4 132.1L610.1 130.0Z" fill="none" stroke="#f04040" stroke-width="0.85"/>
<text x="623.3" y="132.03" font-size="6.35" fill="#1a1a1a">cmcc-cms</text>
<path d="M609.6 137.8L613.1 137.8L611.4 141.7Z" fill="none" stroke="#40e040" stroke-width="0.7"/>
<text x="623.3" y="141.05" font-size="6.35" fill="#1a1a1a">hadgem2-es</text>
<path d="M609.6 146.9L613.1 146.9L611.4 150.8Z" fill="none" stroke="#e0d020" stroke-width="0.7"/>
<text x="623.3" y="150.07" font-size="6.35" fill="#1a1a1a">hadgem2-cc</text>
<path d="M609.6 155.9L613.1 155.9L611.4 159.8Z" fill="none" stroke="#f080f0" stroke-width="0.7"/>
<text x="623.3" y="159.09" font-size="6.35" fill="#1a1a1a">cesm1-bgc</text>
<path d="M609.6 164.9L613.1 164.9L611.4 168.8Z" fill="none" stroke="#6030a0" stroke-width="0.7"/>
<text x="623.3" y="168.11" font-size="6.35" fill="#1a1a1a">fgoals-s2</text>
<path d="M609.6 173.9L613.1 173.9L611.4 177.8Z" fill="none" stroke="#60b0b0" stroke-width="0.7"/>
<text x="623.3" y="177.13" font-size="6.35" fill="#1a1a1a">giss-e2-r</text>
<path d="M609.6 182.9L613.1 182.9L611.4 186.8Z" fill="none" stroke="#f04020" stroke-width="0.7"/>
<text x="623.3" y="186.15" font-size="6.35" fill="#1a1a1a">bcc-csm1-1-m</text>
<path d="M609.6 192.0L613.1 192.0L611.4 195.9Z" fill="none" stroke="#e0c020" stroke-width="0.7"/>
<text x="623.3" y="195.17" font-size="6.35" fill="#1a1a1a">giss-e2-h</text>
<path d="M609.6 201.0L613.1 201.0L611.4 204.9Z" fill="none" stroke="#40e080" stroke-width="0.7"/>
<text x="623.3" y="204.19" font-size="6.35" fill="#1a1a1a">access1-3</text>
<path d="M609.6 210.0L613.1 210.0L611.4 213.9Z" fill="none" stroke="#60e0f0" stroke-width="0.7"/>
<text x="623.3" y="213.21" font-size="6.35" fill="#1a1a1a">bnu-esm</text>
<path d="M609.6 219.0L613.1 219.0L611.4 222.9Z" fill="none" stroke="#4080f0" stroke-width="0.7"/>
<text x="623.3" y="222.23" font-size="6.35" fill="#1a1a1a">gfdl-cm3</text>
<path d="M609.6 228.0L613.1 228.0L611.4 231.9Z" fill="none" stroke="#a040f0" stroke-width="0.7"/>
<text x="623.3" y="231.25" font-size="6.35" fill="#1a1a1a">bcc-csm1-1</text>
<path d="M609.6 237.1L613.1 237.1L611.4 241.0Z" fill="none" stroke="#f040f0" stroke-width="0.7"/>
<text x="623.3" y="240.27" font-size="6.35" fill="#1a1a1a">canesm2</text>
<circle cx="611.4" cy="247.2" r="1.40" fill="none" stroke="#80e040" stroke-width="0.85"/>
<text x="623.3" y="249.29" font-size="6.35" fill="#1a1a1a">inmcm4</text>
<circle cx="611.4" cy="256.3" r="1.40" fill="none" stroke="#f09040" stroke-width="0.85"/>
<text x="623.3" y="258.31" font-size="6.35" fill="#1a1a1a">mpi-esm-lr</text>
<circle cx="611.4" cy="265.3" r="1.40" fill="none" stroke="#a040f0" stroke-width="0.85"/>
<text x="623.3" y="267.33" font-size="6.35" fill="#1a1a1a">ccsm4</text>
<circle cx="611.4" cy="274.3" r="1.40" fill="none" stroke="#f060c0" stroke-width="0.85"/>
<text x="623.3" y="276.35" font-size="6.35" fill="#1a1a1a">hadcm3</text>
<circle cx="611.4" cy="283.3" r="1.40" fill="none" stroke="#60c0f0" stroke-width="0.85"/>
<text x="623.3" y="285.37" font-size="6.35" fill="#1a1a1a">mpi-esm-p</text>
<circle cx="611.4" cy="292.3" r="1.40" fill="none" stroke="#60e040" stroke-width="0.85"/>
<text x="623.3" y="294.39" font-size="6.35" fill="#1a1a1a">fgoals-g2</text>
<circle cx="611.4" cy="301.4" r="1.40" fill="none" stroke="#a0e040" stroke-width="0.85"/>
<text x="623.3" y="303.41" font-size="6.35" fill="#1a1a1a">csiro-mk3-6-0</text>
<circle cx="611.4" cy="310.4" r="1.40" fill="none" stroke="#60e0a0" stroke-width="0.85"/>
<text x="623.3" y="312.43" font-size="6.35" fill="#1a1a1a">cmcc-cm</text>
<circle cx="611.4" cy="319.4" r="1.40" fill="none" stroke="#60e0f0" stroke-width="0.85"/>
<text x="623.3" y="321.45" font-size="6.35" fill="#1a1a1a">cnrm-cm5</text>
<circle cx="611.4" cy="328.4" r="1.40" fill="none" stroke="#f080e0" stroke-width="0.85"/>
<text x="623.3" y="330.47" font-size="6.35" fill="#1a1a1a">cnrm-cm5-2</text>
<circle cx="611.4" cy="337.4" r="1.40" fill="none" stroke="#f06050" stroke-width="0.85"/>
<text x="623.3" y="339.49" font-size="6.35" fill="#1a1a1a">cesm1-fastchem</text>
<circle cx="611.4" cy="346.5" r="1.40" fill="none" stroke="#f0e040" stroke-width="0.85"/>
<text x="623.3" y="348.51" font-size="6.35" fill="#1a1a1a">cancm4</text>
<circle cx="611.4" cy="355.5" r="1.40" fill="none" stroke="#e0a040" stroke-width="0.85"/>
<text x="623.3" y="357.53" font-size="6.35" fill="#1a1a1a">noresm1-me</text>
<circle cx="611.4" cy="364.5" r="1.40" fill="none" stroke="#a040d0" stroke-width="0.85"/>
<text x="623.3" y="366.55" font-size="6.35" fill="#1a1a1a">ipsl-cm5a-lr</text>
<rect x="609.65" y="371.77" width="3.50" height="3.50" fill="none" stroke="#333" stroke-width="0.7"/>
<text x="623.3" y="375.57" font-size="6.35" fill="#1a1a1a">CMIP5 MME</text>
<rect x="609.65" y="380.79" width="3.50" height="3.50" fill="#000" stroke="#000" stroke-width="0.9"/>
<text x="623.3" y="384.59" font-size="6.35" fill="#1a1a1a">CMIP6 MME</text>
<polygon points="611.40,389.26 611.96,390.79 613.59,390.85 612.30,391.85 612.75,393.42 611.40,392.51 610.05,393.42 610.50,391.85 609.21,390.85 610.84,390.79" fill="#000"/>
<text x="623.3" y="393.61" font-size="6.35" fill="#1a1a1a">ERA5</text>
</svg>
</body></html>
